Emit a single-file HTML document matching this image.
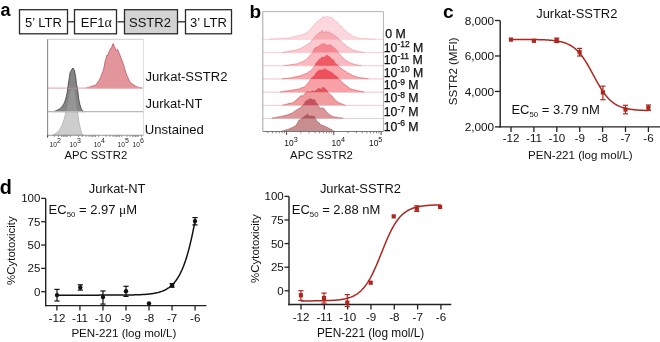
<!DOCTYPE html>
<html><head><meta charset="utf-8"><style>
html,body{margin:0;padding:0;background:#fff;width:660px;height:342px;overflow:hidden}
svg{display:block;will-change:transform}
text{font-family:"Liberation Sans",sans-serif}
</style></head><body>
<svg width="660" height="342" viewBox="0 0 660 342" font-family="Liberation Sans, sans-serif">
<rect width="660" height="342" fill="#fff"/>
<text x="0.4" y="16.2" font-size="18" text-anchor="start" font-weight="bold" fill="#000" >a</text>
<rect x="19.5" y="9.7" width="48.0" height="24.1" fill="#fff" stroke="#2a2a2a" stroke-width="1.3"/>
<text x="43.45" y="26.5" font-size="13" text-anchor="middle" fill="#111" >5’ LTR</text>
<rect x="74.5" y="9.7" width="42.0" height="24.1" fill="#fff" stroke="#2a2a2a" stroke-width="1.3"/>
<text x="96.35" y="26.5" font-size="13" text-anchor="middle" fill="#111" >EF1<tspan font-family="Liberation Serif" font-size="14">α</tspan></text>
<rect x="124.5" y="9.7" width="53.0" height="24.1" fill="#d3d3d3" stroke="#2a2a2a" stroke-width="1.3"/>
<text x="149.95" y="26.5" font-size="13" text-anchor="middle" fill="#111" >SSTR2</text>
<rect x="185.5" y="9.7" width="46.0" height="24.1" fill="#fff" stroke="#2a2a2a" stroke-width="1.3"/>
<text x="208.45" y="26.5" font-size="13" text-anchor="middle" fill="#111" >3’ LTR</text>
<line x1="68" y1="21.8" x2="74.5" y2="21.8" stroke="#2a2a2a" stroke-width="1.3" />
<line x1="117.5" y1="21.8" x2="124.5" y2="21.8" stroke="#2a2a2a" stroke-width="1.3" />
<line x1="178" y1="21.8" x2="185.5" y2="21.8" stroke="#2a2a2a" stroke-width="1.3" />
<path d="M86.00,88.00 L86.00,88.00 L86.70,87.82 L87.40,87.60 L88.10,87.56 L88.80,87.15 L89.50,86.98 L90.20,86.86 L90.90,86.54 L91.60,86.35 L92.30,86.15 L93.00,85.96 L93.70,85.70 L94.40,85.61 L95.10,85.34 L95.80,84.63 L96.50,83.70 L97.20,82.92 L97.90,82.12 L98.60,81.33 L99.30,80.13 L100.00,78.70 L100.70,77.34 L101.40,75.38 L102.10,73.30 L102.80,72.01 L103.50,69.51 L104.20,66.69 L104.90,62.58 L105.60,59.38 L106.30,57.56 L107.00,55.01 L107.70,55.25 L108.40,53.75 L109.10,51.42 L109.80,50.45 L110.50,48.81 L111.20,47.82 L111.90,46.88 L112.60,44.24 L113.30,43.61 L114.00,46.04 L114.70,47.40 L115.40,48.77 L116.10,50.64 L116.80,49.88 L117.50,49.45 L118.20,50.93 L118.90,52.64 L119.60,54.18 L120.30,56.13 L121.00,58.06 L121.70,60.12 L122.40,61.24 L123.10,63.81 L123.80,65.51 L124.50,68.33 L125.20,70.25 L125.90,72.90 L126.60,74.84 L127.30,76.37 L128.00,77.88 L128.70,79.23 L129.40,80.73 L130.10,82.11 L130.80,82.76 L131.50,83.35 L132.20,83.82 L132.90,84.30 L133.60,85.00 L134.30,85.27 L135.00,85.63 L135.70,86.21 L136.40,86.64 L137.10,86.74 L137.80,87.03 L138.50,87.21 L139.20,87.56 L139.90,87.71 L140.60,87.89 L141.30,88.00 L142.00,88.00 L142.00,88.00 Z" fill="rgb(226,150,155)" stroke="rgb(195,75,85)" stroke-width="0.8"/>
<line x1="47.6" y1="88.2" x2="143.4" y2="88.2" stroke="rgb(238,185,190)" stroke-width="1.2" />
<path d="M52.00,111.60 L52.00,111.60 L52.70,111.60 L53.40,111.52 L54.10,111.38 L54.80,111.15 L55.50,110.90 L56.20,110.63 L56.90,110.23 L57.60,109.92 L58.30,109.62 L59.00,109.20 L59.70,108.71 L60.40,108.13 L61.10,107.56 L61.80,106.91 L62.50,106.05 L63.20,104.73 L63.90,103.51 L64.60,102.17 L65.30,100.17 L66.00,97.76 L66.70,94.83 L67.40,90.98 L68.10,85.55 L68.80,80.71 L69.50,76.40 L70.20,72.15 L70.90,71.26 L71.60,69.94 L72.30,68.52 L73.00,68.03 L73.70,69.30 L74.40,70.00 L75.10,73.80 L75.80,78.06 L76.50,84.04 L77.20,87.21 L77.90,91.92 L78.60,98.08 L79.30,101.87 L80.00,104.87 L80.70,107.22 L81.40,109.12 L82.10,110.01 L82.80,110.85 L83.50,111.38 L84.20,111.60 L84.90,111.60 L85.00,111.60 Z" fill="rgb(133,133,133)" stroke="rgb(60,60,60)" stroke-width="0.8"/>
<line x1="47.6" y1="88.2" x2="143.4" y2="88.2" stroke="rgb(238,185,190)" stroke-width="1.1" stroke-opacity="0.45"/>
<path d="M52.00,135.20 L52.00,135.20 L52.70,135.20 L53.40,134.48 L54.10,134.45 L54.80,133.90 L55.50,133.36 L56.20,132.90 L56.90,132.28 L57.60,131.77 L58.30,131.04 L59.00,130.64 L59.70,129.52 L60.40,128.11 L61.10,126.74 L61.80,125.37 L62.50,123.93 L63.20,121.58 L63.90,119.37 L64.60,116.88 L65.30,114.17 L66.00,111.02 L66.70,106.96 L67.40,103.30 L68.10,99.41 L68.80,95.22 L69.50,92.60 L70.20,90.45 L70.90,89.33 L71.60,88.67 L72.30,87.83 L73.00,88.76 L73.70,89.29 L74.40,89.65 L75.10,93.04 L75.80,96.91 L76.50,102.27 L77.20,109.05 L77.90,114.09 L78.60,119.27 L79.30,123.27 L80.00,126.34 L80.70,129.55 L81.40,132.06 L82.10,134.24 L82.80,134.50 L83.50,135.20 L84.00,135.20 Z" fill="rgb(162,162,162)" fill-opacity="0.54" stroke="rgb(120,120,120)" stroke-opacity="0.5" stroke-width="0.7"/>
<line x1="47.6" y1="111.6" x2="143.4" y2="111.6" stroke="rgb(185,185,185)" stroke-width="1.2" />
<line x1="47.6" y1="39.3" x2="143.4" y2="39.3" stroke="#cfcfcf" stroke-width="1" />
<line x1="143.4" y1="39.3" x2="143.4" y2="135.3" stroke="#dcdcdc" stroke-width="1" />
<line x1="47.6" y1="39.3" x2="47.6" y2="135.3" stroke="#8a8a8a" stroke-width="1.1" />
<line x1="47.6" y1="135.3" x2="143.4" y2="135.3" stroke="#9a9a9a" stroke-width="1.1" />
<line x1="47.6" y1="135.3" x2="47.6" y2="137.5" stroke="#333" stroke-width="1.1" />
<line x1="54.3" y1="135.3" x2="54.3" y2="137.0" stroke="#666" stroke-width="0.7" />
<line x1="58.4" y1="135.3" x2="58.4" y2="137.0" stroke="#666" stroke-width="0.7" />
<line x1="61.6" y1="135.3" x2="61.6" y2="137.0" stroke="#666" stroke-width="0.7" />
<line x1="63.4" y1="135.3" x2="63.4" y2="137.0" stroke="#666" stroke-width="0.7" />
<line x1="64.9" y1="135.3" x2="64.9" y2="137.0" stroke="#666" stroke-width="0.7" />
<line x1="66.1" y1="135.3" x2="66.1" y2="137.0" stroke="#666" stroke-width="0.7" />
<line x1="67.3" y1="135.3" x2="67.3" y2="137.0" stroke="#666" stroke-width="0.7" />
<line x1="70.4" y1="135.3" x2="70.4" y2="137.0" stroke="#666" stroke-width="0.7" />
<line x1="78.5" y1="135.3" x2="78.5" y2="137.0" stroke="#666" stroke-width="0.7" />
<line x1="82.2" y1="135.3" x2="82.2" y2="137.0" stroke="#666" stroke-width="0.7" />
<line x1="86" y1="135.3" x2="86" y2="137.0" stroke="#666" stroke-width="0.7" />
<line x1="89" y1="135.3" x2="89" y2="137.0" stroke="#666" stroke-width="0.7" />
<line x1="91" y1="135.3" x2="91" y2="137.0" stroke="#666" stroke-width="0.7" />
<line x1="92.5" y1="135.3" x2="92.5" y2="137.0" stroke="#666" stroke-width="0.7" />
<line x1="94" y1="135.3" x2="94" y2="137.0" stroke="#666" stroke-width="0.7" />
<line x1="95.5" y1="135.3" x2="95.5" y2="137.0" stroke="#666" stroke-width="0.7" />
<line x1="98.5" y1="135.3" x2="98.5" y2="137.0" stroke="#666" stroke-width="0.7" />
<line x1="106" y1="135.3" x2="106" y2="137.0" stroke="#666" stroke-width="0.7" />
<line x1="110" y1="135.3" x2="110" y2="137.0" stroke="#666" stroke-width="0.7" />
<line x1="113" y1="135.3" x2="113" y2="137.0" stroke="#666" stroke-width="0.7" />
<line x1="115" y1="135.3" x2="115" y2="137.0" stroke="#666" stroke-width="0.7" />
<line x1="116.5" y1="135.3" x2="116.5" y2="137.0" stroke="#666" stroke-width="0.7" />
<line x1="118" y1="135.3" x2="118" y2="137.0" stroke="#666" stroke-width="0.7" />
<line x1="119.5" y1="135.3" x2="119.5" y2="137.0" stroke="#666" stroke-width="0.7" />
<line x1="121.8" y1="135.3" x2="121.8" y2="137.0" stroke="#666" stroke-width="0.7" />
<line x1="127" y1="135.3" x2="127" y2="137.0" stroke="#666" stroke-width="0.7" />
<line x1="130" y1="135.3" x2="130" y2="137.0" stroke="#666" stroke-width="0.7" />
<line x1="132.5" y1="135.3" x2="132.5" y2="137.0" stroke="#666" stroke-width="0.7" />
<line x1="134" y1="135.3" x2="134" y2="137.0" stroke="#666" stroke-width="0.7" />
<line x1="135.5" y1="135.3" x2="135.5" y2="137.0" stroke="#666" stroke-width="0.7" />
<line x1="137" y1="135.3" x2="137" y2="137.0" stroke="#666" stroke-width="0.7" />
<line x1="138.2" y1="135.3" x2="138.2" y2="137.0" stroke="#666" stroke-width="0.7" />
<line x1="141.5" y1="135.3" x2="141.5" y2="137.0" stroke="#666" stroke-width="0.7" />
<text x="49.6" y="147.2" font-size="6.6" fill="#222">10<tspan dy="-4.0" font-size="7.0">2</tspan></text>
<text x="69.6" y="147.2" font-size="6.6" fill="#222">10<tspan dy="-4.0" font-size="7.0">3</tspan></text>
<text x="93.7" y="147.2" font-size="6.6" fill="#222">10<tspan dy="-4.0" font-size="7.0">4</tspan></text>
<text x="117.6" y="147.2" font-size="6.6" fill="#222">10<tspan dy="-4.0" font-size="7.0">5</tspan></text>
<text x="132.6" y="147.2" font-size="6.6" fill="#222">10<tspan dy="-4.0" font-size="7.0">6</tspan></text>
<text x="95.8" y="159.2" font-size="11.3" text-anchor="middle" fill="#111" >APC SSTR2</text>
<text x="145.5" y="81.2" font-size="13.05" text-anchor="start" fill="#111" >Jurkat-SSTR2</text>
<text x="145.5" y="108.2" font-size="12.95" text-anchor="start" fill="#111" >Jurkat-NT</text>
<text x="144.8" y="134.2" font-size="13.1" text-anchor="start" fill="#111" >Unstained</text>
<text x="249.5" y="18.1" font-size="19.0" text-anchor="start" font-weight="bold" fill="#000" >b</text>
<g>
<line x1="262.8" y1="39.4" x2="383.4" y2="39.4" stroke="rgb(249,212,217)" stroke-width="0.9"/>
<line x1="262.8" y1="52.589999999999996" x2="383.4" y2="52.589999999999996" stroke="rgb(247,200,206)" stroke-width="0.9"/>
<line x1="262.8" y1="65.78" x2="383.4" y2="65.78" stroke="rgb(246,192,198)" stroke-width="0.9"/>
<line x1="262.8" y1="78.97" x2="383.4" y2="78.97" stroke="rgb(245,188,194)" stroke-width="0.9"/>
<line x1="262.8" y1="92.16" x2="383.4" y2="92.16" stroke="rgb(243,190,194)" stroke-width="0.9"/>
<line x1="262.8" y1="105.35" x2="383.4" y2="105.35" stroke="rgb(238,196,196)" stroke-width="0.9"/>
<line x1="262.8" y1="118.53999999999999" x2="383.4" y2="118.53999999999999" stroke="rgb(226,200,200)" stroke-width="0.9"/>
<defs><clipPath id="hc0"><path d="M263.30,39.40 L263.30,39.40 L264.00,39.40 L264.70,39.40 L265.40,39.40 L266.10,39.39 L266.80,39.34 L267.50,39.29 L268.20,39.25 L268.90,39.20 L269.60,39.15 L270.30,39.16 L271.00,39.12 L271.70,39.03 L272.40,38.96 L273.10,38.99 L273.80,38.96 L274.50,38.79 L275.20,38.92 L275.90,38.74 L276.60,38.64 L277.30,38.71 L278.00,38.68 L278.70,38.60 L279.40,38.44 L280.10,38.46 L280.80,38.56 L281.50,38.39 L282.20,38.23 L282.90,38.18 L283.60,38.17 L284.30,38.19 L285.00,38.28 L285.70,38.07 L286.40,38.05 L287.10,37.98 L287.80,37.82 L288.50,37.88 L289.20,37.83 L289.90,37.76 L290.60,37.67 L291.30,37.53 L292.00,37.35 L292.70,37.05 L293.40,36.90 L294.10,36.80 L294.80,36.49 L295.50,36.39 L296.20,36.34 L296.90,36.00 L297.60,35.89 L298.30,35.82 L299.00,35.44 L299.70,35.30 L300.40,35.10 L301.10,34.77 L301.80,34.88 L302.50,34.56 L303.20,34.25 L303.90,33.94 L304.60,33.85 L305.30,33.51 L306.00,33.05 L306.70,32.43 L307.40,31.81 L308.10,31.73 L308.80,31.40 L309.50,30.57 L310.20,29.86 L310.90,29.08 L311.60,27.75 L312.30,26.76 L313.00,26.26 L313.70,25.27 L314.40,24.02 L315.10,23.61 L315.80,23.42 L316.50,22.30 L317.20,22.07 L317.90,20.95 L318.60,20.74 L319.30,20.01 L320.00,19.13 L320.70,19.03 L321.40,18.87 L322.10,18.65 L322.80,16.81 L323.50,16.71 L324.20,17.79 L324.90,17.46 L325.60,16.49 L326.30,17.04 L327.00,16.63 L327.70,16.27 L328.40,16.84 L329.10,17.18 L329.80,17.57 L330.50,17.56 L331.20,17.51 L331.90,17.24 L332.60,18.19 L333.30,19.41 L334.00,19.47 L334.70,20.43 L335.40,21.73 L336.10,21.71 L336.80,21.89 L337.50,23.24 L338.20,23.34 L338.90,24.51 L339.60,25.09 L340.30,26.19 L341.00,25.85 L341.70,27.07 L342.40,27.62 L343.10,28.72 L343.80,29.66 L344.50,29.72 L345.20,30.85 L345.90,31.08 L346.60,32.09 L347.30,32.23 L348.00,33.05 L348.70,33.64 L349.40,33.72 L350.10,34.27 L350.80,34.70 L351.50,35.03 L352.20,35.65 L352.90,36.12 L353.60,36.42 L354.30,36.69 L355.00,36.92 L355.70,37.10 L356.40,37.30 L357.10,37.48 L357.80,37.76 L358.50,37.90 L359.20,38.05 L359.90,38.33 L360.60,38.32 L361.30,38.47 L362.00,38.41 L362.70,38.44 L363.40,38.57 L364.10,38.69 L364.80,38.62 L365.50,38.65 L366.20,38.57 L366.90,38.76 L367.60,38.64 L368.30,39.01 L369.00,38.88 L369.70,38.94 L370.40,38.97 L371.10,39.02 L371.80,39.02 L372.50,38.92 L373.20,39.10 L373.90,39.11 L374.60,39.14 L375.30,39.17 L376.00,39.21 L376.70,39.24 L377.40,39.27 L378.10,39.31 L378.80,39.34 L379.50,39.38 L380.20,39.40 L380.90,39.40 L381.60,39.40 L382.30,39.40 L382.90,39.40 Z"/></clipPath><clipPath id="hc1"><path d="M263.30,52.59 L263.30,52.59 L264.00,52.59 L264.70,52.59 L265.40,52.59 L266.10,52.59 L266.80,52.59 L267.50,52.59 L268.20,52.59 L268.90,52.59 L269.60,52.59 L270.30,52.59 L271.00,52.59 L271.70,52.59 L272.40,52.59 L273.10,52.59 L273.80,52.59 L274.50,52.59 L275.20,52.59 L275.90,52.59 L276.60,52.59 L277.30,52.59 L278.00,52.59 L278.70,52.59 L279.40,52.59 L280.10,52.59 L280.80,52.52 L281.50,52.45 L282.20,52.38 L282.90,52.31 L283.60,52.24 L284.30,52.10 L285.00,52.12 L285.70,52.02 L286.40,51.79 L287.10,51.63 L287.80,51.58 L288.50,51.37 L289.20,51.19 L289.90,51.16 L290.60,51.07 L291.30,50.84 L292.00,50.71 L292.70,50.50 L293.40,50.56 L294.10,50.38 L294.80,50.25 L295.50,50.19 L296.20,49.90 L296.90,49.73 L297.60,49.70 L298.30,49.39 L299.00,49.08 L299.70,48.75 L300.40,48.42 L301.10,48.01 L301.80,47.94 L302.50,47.35 L303.20,47.00 L303.90,47.00 L304.60,46.34 L305.30,46.04 L306.00,45.38 L306.70,45.13 L307.40,44.57 L308.10,44.02 L308.80,43.82 L309.50,43.00 L310.20,42.59 L310.90,41.62 L311.60,41.10 L312.30,39.79 L313.00,39.12 L313.70,38.57 L314.40,37.46 L315.10,36.40 L315.80,35.45 L316.50,36.18 L317.20,34.40 L317.90,33.88 L318.60,33.53 L319.30,33.49 L320.00,31.84 L320.70,32.65 L321.40,31.18 L322.10,30.27 L322.80,31.95 L323.50,32.09 L324.20,33.46 L324.90,32.45 L325.60,31.57 L326.30,31.07 L327.00,33.00 L327.70,32.54 L328.40,32.05 L329.10,31.78 L329.80,32.54 L330.50,33.43 L331.20,33.27 L331.90,33.79 L332.60,34.24 L333.30,34.84 L334.00,34.84 L334.70,35.40 L335.40,36.08 L336.10,36.65 L336.80,37.61 L337.50,38.00 L338.20,38.10 L338.90,39.32 L339.60,40.43 L340.30,40.28 L341.00,41.22 L341.70,41.39 L342.40,42.54 L343.10,43.26 L343.80,44.07 L344.50,44.06 L345.20,44.43 L345.90,45.67 L346.60,46.22 L347.30,46.48 L348.00,47.13 L348.70,47.48 L349.40,47.92 L350.10,48.29 L350.80,48.64 L351.50,49.18 L352.20,49.54 L352.90,50.09 L353.60,50.34 L354.30,50.69 L355.00,50.78 L355.70,50.75 L356.40,51.01 L357.10,51.07 L357.80,51.22 L358.50,51.31 L359.20,51.50 L359.90,51.63 L360.60,51.87 L361.30,52.07 L362.00,52.20 L362.70,52.26 L363.40,52.30 L364.10,52.38 L364.80,52.46 L365.50,52.54 L366.20,52.59 L366.90,52.59 L367.60,52.59 L368.30,52.59 L369.00,52.59 L369.70,52.59 L370.40,52.59 L371.10,52.59 L371.80,52.59 L372.50,52.59 L373.20,52.59 L373.90,52.59 L374.60,52.59 L375.30,52.59 L376.00,52.59 L376.70,52.59 L377.40,52.59 L378.10,52.59 L378.80,52.59 L379.50,52.59 L380.20,52.59 L380.90,52.59 L381.60,52.59 L382.30,52.59 L382.90,52.59 Z"/></clipPath><clipPath id="hc2"><path d="M263.30,65.78 L263.30,65.78 L264.00,65.78 L264.70,65.78 L265.40,65.78 L266.10,65.78 L266.80,65.78 L267.50,65.78 L268.20,65.78 L268.90,65.78 L269.60,65.78 L270.30,65.78 L271.00,65.78 L271.70,65.78 L272.40,65.78 L273.10,65.78 L273.80,65.78 L274.50,65.78 L275.20,65.78 L275.90,65.78 L276.60,65.78 L277.30,65.78 L278.00,65.78 L278.70,65.77 L279.40,65.74 L280.10,65.71 L280.80,65.68 L281.50,65.65 L282.20,65.63 L282.90,65.60 L283.60,65.57 L284.30,65.54 L285.00,65.51 L285.70,65.47 L286.40,65.44 L287.10,65.24 L287.80,65.16 L288.50,65.02 L289.20,64.98 L289.90,64.83 L290.60,64.59 L291.30,64.61 L292.00,64.59 L292.70,64.37 L293.40,64.36 L294.10,64.20 L294.80,64.10 L295.50,64.09 L296.20,64.11 L296.90,63.88 L297.60,63.63 L298.30,63.42 L299.00,63.06 L299.70,62.73 L300.40,62.56 L301.10,62.12 L301.80,61.79 L302.50,61.54 L303.20,61.24 L303.90,60.95 L304.60,60.51 L305.30,60.19 L306.00,59.53 L306.70,58.74 L307.40,58.33 L308.10,57.79 L308.80,56.98 L309.50,55.98 L310.20,55.03 L310.90,54.68 L311.60,53.90 L312.30,52.46 L313.00,51.43 L313.70,50.40 L314.40,49.11 L315.10,47.85 L315.80,47.54 L316.50,47.00 L317.20,47.42 L317.90,47.10 L318.60,46.18 L319.30,45.72 L320.00,45.45 L320.70,44.90 L321.40,44.18 L322.10,43.71 L322.80,44.65 L323.50,43.69 L324.20,43.30 L324.90,44.02 L325.60,45.80 L326.30,44.64 L327.00,45.65 L327.70,45.69 L328.40,45.25 L329.10,44.82 L329.80,45.74 L330.50,44.32 L331.20,45.22 L331.90,46.17 L332.60,46.46 L333.30,47.88 L334.00,47.78 L334.70,48.09 L335.40,49.14 L336.10,49.65 L336.80,50.31 L337.50,51.31 L338.20,52.07 L338.90,53.48 L339.60,54.62 L340.30,55.16 L341.00,55.50 L341.70,56.78 L342.40,57.29 L343.10,58.40 L343.80,58.57 L344.50,59.28 L345.20,59.63 L345.90,60.27 L346.60,60.82 L347.30,61.03 L348.00,61.49 L348.70,62.08 L349.40,62.56 L350.10,62.84 L350.80,63.17 L351.50,63.15 L352.20,63.63 L352.90,63.83 L353.60,64.01 L354.30,64.35 L355.00,64.50 L355.70,64.50 L356.40,64.86 L357.10,65.11 L357.80,65.37 L358.50,65.30 L359.20,65.35 L359.90,65.44 L360.60,65.52 L361.30,65.58 L362.00,65.64 L362.70,65.69 L363.40,65.75 L364.10,65.78 L364.80,65.78 L365.50,65.78 L366.20,65.78 L366.90,65.78 L367.60,65.78 L368.30,65.78 L369.00,65.78 L369.70,65.78 L370.40,65.78 L371.10,65.78 L371.80,65.78 L372.50,65.78 L373.20,65.78 L373.90,65.78 L374.60,65.78 L375.30,65.78 L376.00,65.78 L376.70,65.78 L377.40,65.78 L378.10,65.78 L378.80,65.78 L379.50,65.78 L380.20,65.78 L380.90,65.78 L381.60,65.78 L382.30,65.78 L382.90,65.78 Z"/></clipPath><clipPath id="hc3"><path d="M263.30,78.97 L263.30,78.97 L264.00,78.97 L264.70,78.97 L265.40,78.97 L266.10,78.97 L266.80,78.97 L267.50,78.97 L268.20,78.97 L268.90,78.97 L269.60,78.97 L270.30,78.97 L271.00,78.97 L271.70,78.97 L272.40,78.97 L273.10,78.97 L273.80,78.97 L274.50,78.97 L275.20,78.97 L275.90,78.97 L276.60,78.97 L277.30,78.97 L278.00,78.97 L278.70,78.97 L279.40,78.97 L280.10,78.89 L280.80,78.84 L281.50,78.79 L282.20,78.74 L282.90,78.69 L283.60,78.61 L284.30,78.50 L285.00,78.52 L285.70,78.51 L286.40,78.50 L287.10,78.41 L287.80,78.24 L288.50,78.17 L289.20,78.12 L289.90,78.07 L290.60,77.77 L291.30,77.80 L292.00,77.59 L292.70,77.47 L293.40,77.21 L294.10,77.11 L294.80,76.95 L295.50,76.83 L296.20,76.77 L296.90,76.53 L297.60,76.32 L298.30,76.30 L299.00,76.11 L299.70,76.03 L300.40,75.77 L301.10,75.52 L301.80,75.21 L302.50,74.97 L303.20,74.55 L303.90,74.47 L304.60,74.18 L305.30,73.93 L306.00,73.50 L306.70,73.37 L307.40,73.10 L308.10,72.53 L308.80,71.87 L309.50,71.38 L310.20,71.42 L310.90,70.53 L311.60,69.99 L312.30,69.46 L313.00,68.40 L313.70,66.84 L314.40,66.50 L315.10,65.44 L315.80,63.55 L316.50,62.58 L317.20,61.65 L317.90,61.08 L318.60,59.92 L319.30,59.18 L320.00,59.77 L320.70,59.11 L321.40,57.23 L322.10,57.05 L322.80,57.49 L323.50,57.51 L324.20,56.83 L324.90,57.12 L325.60,56.41 L326.30,55.07 L327.00,55.83 L327.70,55.62 L328.40,56.72 L329.10,56.76 L329.80,56.58 L330.50,58.33 L331.20,58.47 L331.90,59.07 L332.60,59.57 L333.30,59.71 L334.00,60.90 L334.70,62.65 L335.40,63.01 L336.10,64.09 L336.80,64.91 L337.50,64.64 L338.20,66.33 L338.90,66.63 L339.60,67.60 L340.30,67.69 L341.00,68.31 L341.70,68.85 L342.40,69.38 L343.10,69.59 L343.80,70.52 L344.50,70.93 L345.20,71.43 L345.90,71.43 L346.60,72.14 L347.30,72.69 L348.00,73.03 L348.70,73.07 L349.40,73.85 L350.10,74.18 L350.80,74.55 L351.50,74.87 L352.20,75.21 L352.90,75.45 L353.60,75.73 L354.30,76.16 L355.00,76.04 L355.70,76.46 L356.40,76.80 L357.10,77.10 L357.80,77.43 L358.50,77.40 L359.20,77.59 L359.90,77.62 L360.60,77.87 L361.30,77.82 L362.00,77.78 L362.70,78.06 L363.40,78.06 L364.10,78.21 L364.80,78.22 L365.50,78.31 L366.20,78.49 L366.90,78.63 L367.60,78.64 L368.30,78.73 L369.00,78.80 L369.70,78.87 L370.40,78.97 L371.10,78.97 L371.80,78.97 L372.50,78.97 L373.20,78.97 L373.90,78.97 L374.60,78.97 L375.30,78.97 L376.00,78.97 L376.70,78.97 L377.40,78.97 L378.10,78.97 L378.80,78.97 L379.50,78.97 L380.20,78.97 L380.90,78.97 L381.60,78.97 L382.30,78.97 L382.90,78.97 Z"/></clipPath><clipPath id="hc4"><path d="M263.30,92.16 L263.30,92.16 L264.00,92.16 L264.70,92.16 L265.40,92.16 L266.10,92.16 L266.80,92.16 L267.50,92.16 L268.20,92.16 L268.90,92.16 L269.60,92.16 L270.30,92.16 L271.00,92.16 L271.70,92.16 L272.40,92.16 L273.10,92.16 L273.80,92.16 L274.50,92.16 L275.20,92.16 L275.90,92.16 L276.60,92.16 L277.30,92.16 L278.00,92.16 L278.70,92.16 L279.40,92.13 L280.10,92.00 L280.80,91.87 L281.50,91.69 L282.20,91.76 L282.90,91.47 L283.60,91.47 L284.30,91.24 L285.00,91.20 L285.70,91.18 L286.40,91.00 L287.10,90.97 L287.80,90.70 L288.50,90.68 L289.20,90.50 L289.90,90.56 L290.60,90.23 L291.30,90.28 L292.00,90.04 L292.70,89.97 L293.40,90.03 L294.10,89.81 L294.80,89.77 L295.50,89.59 L296.20,89.40 L296.90,89.35 L297.60,89.22 L298.30,89.30 L299.00,88.92 L299.70,88.65 L300.40,88.32 L301.10,88.21 L301.80,87.84 L302.50,87.59 L303.20,87.55 L303.90,87.24 L304.60,86.79 L305.30,86.51 L306.00,85.70 L306.70,84.52 L307.40,83.79 L308.10,83.06 L308.80,82.15 L309.50,81.17 L310.20,79.95 L310.90,79.22 L311.60,78.23 L312.30,77.18 L313.00,77.09 L313.70,76.23 L314.40,75.44 L315.10,75.02 L315.80,73.50 L316.50,72.34 L317.20,72.28 L317.90,70.91 L318.60,71.31 L319.30,70.12 L320.00,69.78 L320.70,70.31 L321.40,70.87 L322.10,69.68 L322.80,69.95 L323.50,69.89 L324.20,69.40 L324.90,68.61 L325.60,69.50 L326.30,69.66 L327.00,70.77 L327.70,70.53 L328.40,71.35 L329.10,70.80 L329.80,71.75 L330.50,71.93 L331.20,72.35 L331.90,72.99 L332.60,73.07 L333.30,73.88 L334.00,74.82 L334.70,75.21 L335.40,75.65 L336.10,75.95 L336.80,77.01 L337.50,77.14 L338.20,78.50 L338.90,79.09 L339.60,80.17 L340.30,80.22 L341.00,81.43 L341.70,82.13 L342.40,82.39 L343.10,83.41 L343.80,84.02 L344.50,84.21 L345.20,84.94 L345.90,85.28 L346.60,86.01 L347.30,86.37 L348.00,86.86 L348.70,87.50 L349.40,87.86 L350.10,88.59 L350.80,89.04 L351.50,89.18 L352.20,89.27 L352.90,89.54 L353.60,89.72 L354.30,89.83 L355.00,89.91 L355.70,90.22 L356.40,90.45 L357.10,90.52 L357.80,90.63 L358.50,90.89 L359.20,91.00 L359.90,91.33 L360.60,91.34 L361.30,91.50 L362.00,91.59 L362.70,91.71 L363.40,91.77 L364.10,91.93 L364.80,92.03 L365.50,92.13 L366.20,92.16 L366.90,92.16 L367.60,92.16 L368.30,92.16 L369.00,92.16 L369.70,92.16 L370.40,92.16 L371.10,92.16 L371.80,92.16 L372.50,92.16 L373.20,92.16 L373.90,92.16 L374.60,92.16 L375.30,92.16 L376.00,92.16 L376.70,92.16 L377.40,92.16 L378.10,92.16 L378.80,92.16 L379.50,92.16 L380.20,92.16 L380.90,92.16 L381.60,92.16 L382.30,92.16 L382.90,92.16 Z"/></clipPath><clipPath id="hc5"><path d="M263.30,105.35 L263.30,105.35 L264.00,105.35 L264.70,105.35 L265.40,105.35 L266.10,105.35 L266.80,105.35 L267.50,105.35 L268.20,105.35 L268.90,105.35 L269.60,105.35 L270.30,105.35 L271.00,105.35 L271.70,105.35 L272.40,105.35 L273.10,105.35 L273.80,105.35 L274.50,105.35 L275.20,105.35 L275.90,105.35 L276.60,105.35 L277.30,105.35 L278.00,105.35 L278.70,105.35 L279.40,105.35 L280.10,105.35 L280.80,105.35 L281.50,105.23 L282.20,105.14 L282.90,105.05 L283.60,105.11 L284.30,104.69 L285.00,104.63 L285.70,104.41 L286.40,104.19 L287.10,104.02 L287.80,103.98 L288.50,103.57 L289.20,103.46 L289.90,103.31 L290.60,103.23 L291.30,103.13 L292.00,102.96 L292.70,102.67 L293.40,102.40 L294.10,101.91 L294.80,101.00 L295.50,100.61 L296.20,99.90 L296.90,99.31 L297.60,99.11 L298.30,98.08 L299.00,97.49 L299.70,97.24 L300.40,95.99 L301.10,95.56 L301.80,95.80 L302.50,96.00 L303.20,95.91 L303.90,94.70 L304.60,93.98 L305.30,93.09 L306.00,92.62 L306.70,91.74 L307.40,91.44 L308.10,92.25 L308.80,91.73 L309.50,91.66 L310.20,92.20 L310.90,92.37 L311.60,91.39 L312.30,90.56 L313.00,91.47 L313.70,91.35 L314.40,92.13 L315.10,90.73 L315.80,90.29 L316.50,90.17 L317.20,90.11 L317.90,88.57 L318.60,88.75 L319.30,89.03 L320.00,88.33 L320.70,89.56 L321.40,89.64 L322.10,88.15 L322.80,87.27 L323.50,87.27 L324.20,88.30 L324.90,88.20 L325.60,90.02 L326.30,89.64 L327.00,90.66 L327.70,92.65 L328.40,93.22 L329.10,94.36 L329.80,94.76 L330.50,94.73 L331.20,95.80 L331.90,95.99 L332.60,96.82 L333.30,97.80 L334.00,98.52 L334.70,99.26 L335.40,100.27 L336.10,100.69 L336.80,101.17 L337.50,101.94 L338.20,102.49 L338.90,102.96 L339.60,103.03 L340.30,103.29 L341.00,103.65 L341.70,103.82 L342.40,104.18 L343.10,104.54 L343.80,104.81 L344.50,105.04 L345.20,105.12 L345.90,105.28 L346.60,105.35 L347.30,105.35 L348.00,105.35 L348.70,105.35 L349.40,105.35 L350.10,105.35 L350.80,105.35 L351.50,105.35 L352.20,105.35 L352.90,105.35 L353.60,105.35 L354.30,105.35 L355.00,105.35 L355.70,105.35 L356.40,105.35 L357.10,105.35 L357.80,105.35 L358.50,105.35 L359.20,105.35 L359.90,105.35 L360.60,105.35 L361.30,105.35 L362.00,105.35 L362.70,105.35 L363.40,105.35 L364.10,105.35 L364.80,105.35 L365.50,105.35 L366.20,105.35 L366.90,105.35 L367.60,105.35 L368.30,105.35 L369.00,105.35 L369.70,105.35 L370.40,105.35 L371.10,105.35 L371.80,105.35 L372.50,105.35 L373.20,105.35 L373.90,105.35 L374.60,105.35 L375.30,105.35 L376.00,105.35 L376.70,105.35 L377.40,105.35 L378.10,105.35 L378.80,105.35 L379.50,105.35 L380.20,105.35 L380.90,105.35 L381.60,105.35 L382.30,105.35 L382.90,105.35 Z"/></clipPath><clipPath id="hc6"><path d="M263.30,118.54 L263.30,118.54 L264.00,118.54 L264.70,118.54 L265.40,118.54 L266.10,118.54 L266.80,118.54 L267.50,118.54 L268.20,118.54 L268.90,118.54 L269.60,118.54 L270.30,118.54 L271.00,118.54 L271.70,118.54 L272.40,117.88 L273.10,117.87 L273.80,117.77 L274.50,117.65 L275.20,117.55 L275.90,117.55 L276.60,117.17 L277.30,117.23 L278.00,116.95 L278.70,116.83 L279.40,116.67 L280.10,116.52 L280.80,116.42 L281.50,116.18 L282.20,116.22 L282.90,115.90 L283.60,115.97 L284.30,115.59 L285.00,115.58 L285.70,115.37 L286.40,115.02 L287.10,115.13 L287.80,114.71 L288.50,114.37 L289.20,114.09 L289.90,113.79 L290.60,113.63 L291.30,113.40 L292.00,113.15 L292.70,112.66 L293.40,112.23 L294.10,111.60 L294.80,111.28 L295.50,110.71 L296.20,110.03 L296.90,109.65 L297.60,109.55 L298.30,109.01 L299.00,108.27 L299.70,108.14 L300.40,107.99 L301.10,107.23 L301.80,106.07 L302.50,105.67 L303.20,105.07 L303.90,104.00 L304.60,103.85 L305.30,101.47 L306.00,101.49 L306.70,101.18 L307.40,99.55 L308.10,100.61 L308.80,99.69 L309.50,98.82 L310.20,98.81 L310.90,99.00 L311.60,99.06 L312.30,99.81 L313.00,100.12 L313.70,99.81 L314.40,99.58 L315.10,100.74 L315.80,103.35 L316.50,102.84 L317.20,104.05 L317.90,105.14 L318.60,106.53 L319.30,107.08 L320.00,107.74 L320.70,108.59 L321.40,107.85 L322.10,107.95 L322.80,108.20 L323.50,108.47 L324.20,108.67 L324.90,109.83 L325.60,110.71 L326.30,111.97 L327.00,112.26 L327.70,113.27 L328.40,113.60 L329.10,114.68 L329.80,114.92 L330.50,115.28 L331.20,115.83 L331.90,116.02 L332.60,116.40 L333.30,116.63 L334.00,116.74 L334.70,116.93 L335.40,116.97 L336.10,117.12 L336.80,117.30 L337.50,117.55 L338.20,117.68 L338.90,117.66 L339.60,117.86 L340.30,117.87 L341.00,117.95 L341.70,117.89 L342.40,117.90 L343.10,118.54 L343.80,118.54 L344.50,118.54 L345.20,118.54 L345.90,118.54 L346.60,118.54 L347.30,118.54 L348.00,118.54 L348.70,118.54 L349.40,118.54 L350.10,118.54 L350.80,118.54 L351.50,118.54 L352.20,118.54 L352.90,118.54 L353.60,118.54 L354.30,118.54 L355.00,118.54 L355.70,118.54 L356.40,118.54 L357.10,118.54 L357.80,118.54 L358.50,118.54 L359.20,118.54 L359.90,118.54 L360.60,118.54 L361.30,118.54 L362.00,118.54 L362.70,118.54 L363.40,118.54 L364.10,118.54 L364.80,118.54 L365.50,118.54 L366.20,118.54 L366.90,118.54 L367.60,118.54 L368.30,118.54 L369.00,118.54 L369.70,118.54 L370.40,118.54 L371.10,118.54 L371.80,118.54 L372.50,118.54 L373.20,118.54 L373.90,118.54 L374.60,118.54 L375.30,118.54 L376.00,118.54 L376.70,118.54 L377.40,118.54 L378.10,118.54 L378.80,118.54 L379.50,118.54 L380.20,118.54 L380.90,118.54 L381.60,118.54 L382.30,118.54 L382.90,118.54 Z"/></clipPath></defs>
<path d="M263.30,39.40 L263.30,39.40 L264.00,39.40 L264.70,39.40 L265.40,39.40 L266.10,39.39 L266.80,39.34 L267.50,39.29 L268.20,39.25 L268.90,39.20 L269.60,39.15 L270.30,39.16 L271.00,39.12 L271.70,39.03 L272.40,38.96 L273.10,38.99 L273.80,38.96 L274.50,38.79 L275.20,38.92 L275.90,38.74 L276.60,38.64 L277.30,38.71 L278.00,38.68 L278.70,38.60 L279.40,38.44 L280.10,38.46 L280.80,38.56 L281.50,38.39 L282.20,38.23 L282.90,38.18 L283.60,38.17 L284.30,38.19 L285.00,38.28 L285.70,38.07 L286.40,38.05 L287.10,37.98 L287.80,37.82 L288.50,37.88 L289.20,37.83 L289.90,37.76 L290.60,37.67 L291.30,37.53 L292.00,37.35 L292.70,37.05 L293.40,36.90 L294.10,36.80 L294.80,36.49 L295.50,36.39 L296.20,36.34 L296.90,36.00 L297.60,35.89 L298.30,35.82 L299.00,35.44 L299.70,35.30 L300.40,35.10 L301.10,34.77 L301.80,34.88 L302.50,34.56 L303.20,34.25 L303.90,33.94 L304.60,33.85 L305.30,33.51 L306.00,33.05 L306.70,32.43 L307.40,31.81 L308.10,31.73 L308.80,31.40 L309.50,30.57 L310.20,29.86 L310.90,29.08 L311.60,27.75 L312.30,26.76 L313.00,26.26 L313.70,25.27 L314.40,24.02 L315.10,23.61 L315.80,23.42 L316.50,22.30 L317.20,22.07 L317.90,20.95 L318.60,20.74 L319.30,20.01 L320.00,19.13 L320.70,19.03 L321.40,18.87 L322.10,18.65 L322.80,16.81 L323.50,16.71 L324.20,17.79 L324.90,17.46 L325.60,16.49 L326.30,17.04 L327.00,16.63 L327.70,16.27 L328.40,16.84 L329.10,17.18 L329.80,17.57 L330.50,17.56 L331.20,17.51 L331.90,17.24 L332.60,18.19 L333.30,19.41 L334.00,19.47 L334.70,20.43 L335.40,21.73 L336.10,21.71 L336.80,21.89 L337.50,23.24 L338.20,23.34 L338.90,24.51 L339.60,25.09 L340.30,26.19 L341.00,25.85 L341.70,27.07 L342.40,27.62 L343.10,28.72 L343.80,29.66 L344.50,29.72 L345.20,30.85 L345.90,31.08 L346.60,32.09 L347.30,32.23 L348.00,33.05 L348.70,33.64 L349.40,33.72 L350.10,34.27 L350.80,34.70 L351.50,35.03 L352.20,35.65 L352.90,36.12 L353.60,36.42 L354.30,36.69 L355.00,36.92 L355.70,37.10 L356.40,37.30 L357.10,37.48 L357.80,37.76 L358.50,37.90 L359.20,38.05 L359.90,38.33 L360.60,38.32 L361.30,38.47 L362.00,38.41 L362.70,38.44 L363.40,38.57 L364.10,38.69 L364.80,38.62 L365.50,38.65 L366.20,38.57 L366.90,38.76 L367.60,38.64 L368.30,39.01 L369.00,38.88 L369.70,38.94 L370.40,38.97 L371.10,39.02 L371.80,39.02 L372.50,38.92 L373.20,39.10 L373.90,39.11 L374.60,39.14 L375.30,39.17 L376.00,39.21 L376.70,39.24 L377.40,39.27 L378.10,39.31 L378.80,39.34 L379.50,39.38 L380.20,39.40 L380.90,39.40 L381.60,39.40 L382.30,39.40 L382.90,39.40 Z" fill="rgb(252,216,222)"/>
<path d="M268.90,39.20 L269.60,39.15 L270.30,39.16 L271.00,39.12 L271.70,39.03 L272.40,38.96 L273.10,38.99 L273.80,38.96 L274.50,38.79 L275.20,38.92 L275.90,38.74 L276.60,38.64 L277.30,38.71 L278.00,38.68 L278.70,38.60 L279.40,38.44 L280.10,38.46 L280.80,38.56 L281.50,38.39 L282.20,38.23 L282.90,38.18 L283.60,38.17 L284.30,38.19 L285.00,38.28 L285.70,38.07 L286.40,38.05 L287.10,37.98 L287.80,37.82 L288.50,37.88 L289.20,37.83 L289.90,37.76 L290.60,37.67 L291.30,37.53 L292.00,37.35 L292.70,37.05 L293.40,36.90 L294.10,36.80 L294.80,36.49 L295.50,36.39 L296.20,36.34 L296.90,36.00 L297.60,35.89 L298.30,35.82 L299.00,35.44 L299.70,35.30 L300.40,35.10 L301.10,34.77 L301.80,34.88 L302.50,34.56 L303.20,34.25 L303.90,33.94 L304.60,33.85 L305.30,33.51 L306.00,33.05 L306.70,32.43 L307.40,31.81 L308.10,31.73 L308.80,31.40 L309.50,30.57 L310.20,29.86 L310.90,29.08 L311.60,27.75 L312.30,26.76 L313.00,26.26 L313.70,25.27 L314.40,24.02 L315.10,23.61 L315.80,23.42 L316.50,22.30 L317.20,22.07 L317.90,20.95 L318.60,20.74 L319.30,20.01 L320.00,19.13 L320.70,19.03 L321.40,18.87 L322.10,18.65 L322.80,16.81 L323.50,16.71 L324.20,17.79 L324.90,17.46 L325.60,16.49 L326.30,17.04 L327.00,16.63 L327.70,16.27 L328.40,16.84 L329.10,17.18 L329.80,17.57 L330.50,17.56 L331.20,17.51 L331.90,17.24 L332.60,18.19 L333.30,19.41 L334.00,19.47 L334.70,20.43 L335.40,21.73 L336.10,21.71 L336.80,21.89 L337.50,23.24 L338.20,23.34 L338.90,24.51 L339.60,25.09 L340.30,26.19 L341.00,25.85 L341.70,27.07 L342.40,27.62 L343.10,28.72 L343.80,29.66 L344.50,29.72 L345.20,30.85 L345.90,31.08 L346.60,32.09 L347.30,32.23 L348.00,33.05 L348.70,33.64 L349.40,33.72 L350.10,34.27 L350.80,34.70 L351.50,35.03 L352.20,35.65 L352.90,36.12 L353.60,36.42 L354.30,36.69 L355.00,36.92 L355.70,37.10 L356.40,37.30 L357.10,37.48 L357.80,37.76 L358.50,37.90 L359.20,38.05 L359.90,38.33 L360.60,38.32 L361.30,38.47 L362.00,38.41 L362.70,38.44 L363.40,38.57 L364.10,38.69 L364.80,38.62 L365.50,38.65 L366.20,38.57 L366.90,38.76 L367.60,38.64 L368.30,39.01 L369.00,38.88 L369.70,38.94 L370.40,38.97 L371.10,39.02 L371.80,39.02 L372.50,38.92 L373.20,39.10 L373.90,39.11 L374.60,39.14 L375.30,39.17" fill="none" stroke="rgb(245,165,175)" stroke-width="0.6"/>
<path d="M263.30,52.59 L263.30,52.59 L264.00,52.59 L264.70,52.59 L265.40,52.59 L266.10,52.59 L266.80,52.59 L267.50,52.59 L268.20,52.59 L268.90,52.59 L269.60,52.59 L270.30,52.59 L271.00,52.59 L271.70,52.59 L272.40,52.59 L273.10,52.59 L273.80,52.59 L274.50,52.59 L275.20,52.59 L275.90,52.59 L276.60,52.59 L277.30,52.59 L278.00,52.59 L278.70,52.59 L279.40,52.59 L280.10,52.59 L280.80,52.52 L281.50,52.45 L282.20,52.38 L282.90,52.31 L283.60,52.24 L284.30,52.10 L285.00,52.12 L285.70,52.02 L286.40,51.79 L287.10,51.63 L287.80,51.58 L288.50,51.37 L289.20,51.19 L289.90,51.16 L290.60,51.07 L291.30,50.84 L292.00,50.71 L292.70,50.50 L293.40,50.56 L294.10,50.38 L294.80,50.25 L295.50,50.19 L296.20,49.90 L296.90,49.73 L297.60,49.70 L298.30,49.39 L299.00,49.08 L299.70,48.75 L300.40,48.42 L301.10,48.01 L301.80,47.94 L302.50,47.35 L303.20,47.00 L303.90,47.00 L304.60,46.34 L305.30,46.04 L306.00,45.38 L306.70,45.13 L307.40,44.57 L308.10,44.02 L308.80,43.82 L309.50,43.00 L310.20,42.59 L310.90,41.62 L311.60,41.10 L312.30,39.79 L313.00,39.12 L313.70,38.57 L314.40,37.46 L315.10,36.40 L315.80,35.45 L316.50,36.18 L317.20,34.40 L317.90,33.88 L318.60,33.53 L319.30,33.49 L320.00,31.84 L320.70,32.65 L321.40,31.18 L322.10,30.27 L322.80,31.95 L323.50,32.09 L324.20,33.46 L324.90,32.45 L325.60,31.57 L326.30,31.07 L327.00,33.00 L327.70,32.54 L328.40,32.05 L329.10,31.78 L329.80,32.54 L330.50,33.43 L331.20,33.27 L331.90,33.79 L332.60,34.24 L333.30,34.84 L334.00,34.84 L334.70,35.40 L335.40,36.08 L336.10,36.65 L336.80,37.61 L337.50,38.00 L338.20,38.10 L338.90,39.32 L339.60,40.43 L340.30,40.28 L341.00,41.22 L341.70,41.39 L342.40,42.54 L343.10,43.26 L343.80,44.07 L344.50,44.06 L345.20,44.43 L345.90,45.67 L346.60,46.22 L347.30,46.48 L348.00,47.13 L348.70,47.48 L349.40,47.92 L350.10,48.29 L350.80,48.64 L351.50,49.18 L352.20,49.54 L352.90,50.09 L353.60,50.34 L354.30,50.69 L355.00,50.78 L355.70,50.75 L356.40,51.01 L357.10,51.07 L357.80,51.22 L358.50,51.31 L359.20,51.50 L359.90,51.63 L360.60,51.87 L361.30,52.07 L362.00,52.20 L362.70,52.26 L363.40,52.30 L364.10,52.38 L364.80,52.46 L365.50,52.54 L366.20,52.59 L366.90,52.59 L367.60,52.59 L368.30,52.59 L369.00,52.59 L369.70,52.59 L370.40,52.59 L371.10,52.59 L371.80,52.59 L372.50,52.59 L373.20,52.59 L373.90,52.59 L374.60,52.59 L375.30,52.59 L376.00,52.59 L376.70,52.59 L377.40,52.59 L378.10,52.59 L378.80,52.59 L379.50,52.59 L380.20,52.59 L380.90,52.59 L381.60,52.59 L382.30,52.59 L382.90,52.59 Z" fill="rgb(250,200,206)"/>
<path d="M263.30,52.59 L263.30,52.59 L264.00,52.59 L264.70,52.59 L265.40,52.59 L266.10,52.59 L266.80,52.59 L267.50,52.59 L268.20,52.59 L268.90,52.59 L269.60,52.59 L270.30,52.59 L271.00,52.59 L271.70,52.59 L272.40,52.59 L273.10,52.59 L273.80,52.59 L274.50,52.59 L275.20,52.59 L275.90,52.59 L276.60,52.59 L277.30,52.59 L278.00,52.59 L278.70,52.59 L279.40,52.59 L280.10,52.59 L280.80,52.52 L281.50,52.45 L282.20,52.38 L282.90,52.31 L283.60,52.24 L284.30,52.10 L285.00,52.12 L285.70,52.02 L286.40,51.79 L287.10,51.63 L287.80,51.58 L288.50,51.37 L289.20,51.19 L289.90,51.16 L290.60,51.07 L291.30,50.84 L292.00,50.71 L292.70,50.50 L293.40,50.56 L294.10,50.38 L294.80,50.25 L295.50,50.19 L296.20,49.90 L296.90,49.73 L297.60,49.70 L298.30,49.39 L299.00,49.08 L299.70,48.75 L300.40,48.42 L301.10,48.01 L301.80,47.94 L302.50,47.35 L303.20,47.00 L303.90,47.00 L304.60,46.34 L305.30,46.04 L306.00,45.38 L306.70,45.13 L307.40,44.57 L308.10,44.02 L308.80,43.82 L309.50,43.00 L310.20,42.59 L310.90,41.62 L311.60,41.10 L312.30,39.79 L313.00,39.12 L313.70,38.57 L314.40,37.46 L315.10,36.40 L315.80,35.45 L316.50,36.18 L317.20,34.40 L317.90,33.88 L318.60,33.53 L319.30,33.49 L320.00,31.84 L320.70,32.65 L321.40,31.18 L322.10,30.27 L322.80,31.95 L323.50,32.09 L324.20,33.46 L324.90,32.45 L325.60,31.57 L326.30,31.07 L327.00,33.00 L327.70,32.54 L328.40,32.05 L329.10,31.78 L329.80,32.54 L330.50,33.43 L331.20,33.27 L331.90,33.79 L332.60,34.24 L333.30,34.84 L334.00,34.84 L334.70,35.40 L335.40,36.08 L336.10,36.65 L336.80,37.61 L337.50,38.00 L338.20,38.10 L338.90,39.32 L339.60,40.43 L340.30,40.28 L341.00,41.22 L341.70,41.39 L342.40,42.54 L343.10,43.26 L343.80,44.07 L344.50,44.06 L345.20,44.43 L345.90,45.67 L346.60,46.22 L347.30,46.48 L348.00,47.13 L348.70,47.48 L349.40,47.92 L350.10,48.29 L350.80,48.64 L351.50,49.18 L352.20,49.54 L352.90,50.09 L353.60,50.34 L354.30,50.69 L355.00,50.78 L355.70,50.75 L356.40,51.01 L357.10,51.07 L357.80,51.22 L358.50,51.31 L359.20,51.50 L359.90,51.63 L360.60,51.87 L361.30,52.07 L362.00,52.20 L362.70,52.26 L363.40,52.30 L364.10,52.38 L364.80,52.46 L365.50,52.54 L366.20,52.59 L366.90,52.59 L367.60,52.59 L368.30,52.59 L369.00,52.59 L369.70,52.59 L370.40,52.59 L371.10,52.59 L371.80,52.59 L372.50,52.59 L373.20,52.59 L373.90,52.59 L374.60,52.59 L375.30,52.59 L376.00,52.59 L376.70,52.59 L377.40,52.59 L378.10,52.59 L378.80,52.59 L379.50,52.59 L380.20,52.59 L380.90,52.59 L381.60,52.59 L382.30,52.59 L382.90,52.59 Z" fill="rgb(247,170,178)" clip-path="url(#hc0)"/>
<path d="M282.20,52.38 L282.90,52.31 L283.60,52.24 L284.30,52.10 L285.00,52.12 L285.70,52.02 L286.40,51.79 L287.10,51.63 L287.80,51.58 L288.50,51.37 L289.20,51.19 L289.90,51.16 L290.60,51.07 L291.30,50.84 L292.00,50.71 L292.70,50.50 L293.40,50.56 L294.10,50.38 L294.80,50.25 L295.50,50.19 L296.20,49.90 L296.90,49.73 L297.60,49.70 L298.30,49.39 L299.00,49.08 L299.70,48.75 L300.40,48.42 L301.10,48.01 L301.80,47.94 L302.50,47.35 L303.20,47.00 L303.90,47.00 L304.60,46.34 L305.30,46.04 L306.00,45.38 L306.70,45.13 L307.40,44.57 L308.10,44.02 L308.80,43.82 L309.50,43.00 L310.20,42.59 L310.90,41.62 L311.60,41.10 L312.30,39.79 L313.00,39.12 L313.70,38.57 L314.40,37.46 L315.10,36.40 L315.80,35.45 L316.50,36.18 L317.20,34.40 L317.90,33.88 L318.60,33.53 L319.30,33.49 L320.00,31.84 L320.70,32.65 L321.40,31.18 L322.10,30.27 L322.80,31.95 L323.50,32.09 L324.20,33.46 L324.90,32.45 L325.60,31.57 L326.30,31.07 L327.00,33.00 L327.70,32.54 L328.40,32.05 L329.10,31.78 L329.80,32.54 L330.50,33.43 L331.20,33.27 L331.90,33.79 L332.60,34.24 L333.30,34.84 L334.00,34.84 L334.70,35.40 L335.40,36.08 L336.10,36.65 L336.80,37.61 L337.50,38.00 L338.20,38.10 L338.90,39.32 L339.60,40.43 L340.30,40.28 L341.00,41.22 L341.70,41.39 L342.40,42.54 L343.10,43.26 L343.80,44.07 L344.50,44.06 L345.20,44.43 L345.90,45.67 L346.60,46.22 L347.30,46.48 L348.00,47.13 L348.70,47.48 L349.40,47.92 L350.10,48.29 L350.80,48.64 L351.50,49.18 L352.20,49.54 L352.90,50.09 L353.60,50.34 L354.30,50.69 L355.00,50.78 L355.70,50.75 L356.40,51.01 L357.10,51.07 L357.80,51.22 L358.50,51.31 L359.20,51.50 L359.90,51.63 L360.60,51.87 L361.30,52.07 L362.00,52.20 L362.70,52.26 L363.40,52.30 L364.10,52.38" fill="none" stroke="rgb(240,130,142)" stroke-width="0.6"/>
<path d="M263.30,65.78 L263.30,65.78 L264.00,65.78 L264.70,65.78 L265.40,65.78 L266.10,65.78 L266.80,65.78 L267.50,65.78 L268.20,65.78 L268.90,65.78 L269.60,65.78 L270.30,65.78 L271.00,65.78 L271.70,65.78 L272.40,65.78 L273.10,65.78 L273.80,65.78 L274.50,65.78 L275.20,65.78 L275.90,65.78 L276.60,65.78 L277.30,65.78 L278.00,65.78 L278.70,65.77 L279.40,65.74 L280.10,65.71 L280.80,65.68 L281.50,65.65 L282.20,65.63 L282.90,65.60 L283.60,65.57 L284.30,65.54 L285.00,65.51 L285.70,65.47 L286.40,65.44 L287.10,65.24 L287.80,65.16 L288.50,65.02 L289.20,64.98 L289.90,64.83 L290.60,64.59 L291.30,64.61 L292.00,64.59 L292.70,64.37 L293.40,64.36 L294.10,64.20 L294.80,64.10 L295.50,64.09 L296.20,64.11 L296.90,63.88 L297.60,63.63 L298.30,63.42 L299.00,63.06 L299.70,62.73 L300.40,62.56 L301.10,62.12 L301.80,61.79 L302.50,61.54 L303.20,61.24 L303.90,60.95 L304.60,60.51 L305.30,60.19 L306.00,59.53 L306.70,58.74 L307.40,58.33 L308.10,57.79 L308.80,56.98 L309.50,55.98 L310.20,55.03 L310.90,54.68 L311.60,53.90 L312.30,52.46 L313.00,51.43 L313.70,50.40 L314.40,49.11 L315.10,47.85 L315.80,47.54 L316.50,47.00 L317.20,47.42 L317.90,47.10 L318.60,46.18 L319.30,45.72 L320.00,45.45 L320.70,44.90 L321.40,44.18 L322.10,43.71 L322.80,44.65 L323.50,43.69 L324.20,43.30 L324.90,44.02 L325.60,45.80 L326.30,44.64 L327.00,45.65 L327.70,45.69 L328.40,45.25 L329.10,44.82 L329.80,45.74 L330.50,44.32 L331.20,45.22 L331.90,46.17 L332.60,46.46 L333.30,47.88 L334.00,47.78 L334.70,48.09 L335.40,49.14 L336.10,49.65 L336.80,50.31 L337.50,51.31 L338.20,52.07 L338.90,53.48 L339.60,54.62 L340.30,55.16 L341.00,55.50 L341.70,56.78 L342.40,57.29 L343.10,58.40 L343.80,58.57 L344.50,59.28 L345.20,59.63 L345.90,60.27 L346.60,60.82 L347.30,61.03 L348.00,61.49 L348.70,62.08 L349.40,62.56 L350.10,62.84 L350.80,63.17 L351.50,63.15 L352.20,63.63 L352.90,63.83 L353.60,64.01 L354.30,64.35 L355.00,64.50 L355.70,64.50 L356.40,64.86 L357.10,65.11 L357.80,65.37 L358.50,65.30 L359.20,65.35 L359.90,65.44 L360.60,65.52 L361.30,65.58 L362.00,65.64 L362.70,65.69 L363.40,65.75 L364.10,65.78 L364.80,65.78 L365.50,65.78 L366.20,65.78 L366.90,65.78 L367.60,65.78 L368.30,65.78 L369.00,65.78 L369.70,65.78 L370.40,65.78 L371.10,65.78 L371.80,65.78 L372.50,65.78 L373.20,65.78 L373.90,65.78 L374.60,65.78 L375.30,65.78 L376.00,65.78 L376.70,65.78 L377.40,65.78 L378.10,65.78 L378.80,65.78 L379.50,65.78 L380.20,65.78 L380.90,65.78 L381.60,65.78 L382.30,65.78 L382.90,65.78 Z" fill="rgb(250,186,192)"/>
<path d="M263.30,65.78 L263.30,65.78 L264.00,65.78 L264.70,65.78 L265.40,65.78 L266.10,65.78 L266.80,65.78 L267.50,65.78 L268.20,65.78 L268.90,65.78 L269.60,65.78 L270.30,65.78 L271.00,65.78 L271.70,65.78 L272.40,65.78 L273.10,65.78 L273.80,65.78 L274.50,65.78 L275.20,65.78 L275.90,65.78 L276.60,65.78 L277.30,65.78 L278.00,65.78 L278.70,65.77 L279.40,65.74 L280.10,65.71 L280.80,65.68 L281.50,65.65 L282.20,65.63 L282.90,65.60 L283.60,65.57 L284.30,65.54 L285.00,65.51 L285.70,65.47 L286.40,65.44 L287.10,65.24 L287.80,65.16 L288.50,65.02 L289.20,64.98 L289.90,64.83 L290.60,64.59 L291.30,64.61 L292.00,64.59 L292.70,64.37 L293.40,64.36 L294.10,64.20 L294.80,64.10 L295.50,64.09 L296.20,64.11 L296.90,63.88 L297.60,63.63 L298.30,63.42 L299.00,63.06 L299.70,62.73 L300.40,62.56 L301.10,62.12 L301.80,61.79 L302.50,61.54 L303.20,61.24 L303.90,60.95 L304.60,60.51 L305.30,60.19 L306.00,59.53 L306.70,58.74 L307.40,58.33 L308.10,57.79 L308.80,56.98 L309.50,55.98 L310.20,55.03 L310.90,54.68 L311.60,53.90 L312.30,52.46 L313.00,51.43 L313.70,50.40 L314.40,49.11 L315.10,47.85 L315.80,47.54 L316.50,47.00 L317.20,47.42 L317.90,47.10 L318.60,46.18 L319.30,45.72 L320.00,45.45 L320.70,44.90 L321.40,44.18 L322.10,43.71 L322.80,44.65 L323.50,43.69 L324.20,43.30 L324.90,44.02 L325.60,45.80 L326.30,44.64 L327.00,45.65 L327.70,45.69 L328.40,45.25 L329.10,44.82 L329.80,45.74 L330.50,44.32 L331.20,45.22 L331.90,46.17 L332.60,46.46 L333.30,47.88 L334.00,47.78 L334.70,48.09 L335.40,49.14 L336.10,49.65 L336.80,50.31 L337.50,51.31 L338.20,52.07 L338.90,53.48 L339.60,54.62 L340.30,55.16 L341.00,55.50 L341.70,56.78 L342.40,57.29 L343.10,58.40 L343.80,58.57 L344.50,59.28 L345.20,59.63 L345.90,60.27 L346.60,60.82 L347.30,61.03 L348.00,61.49 L348.70,62.08 L349.40,62.56 L350.10,62.84 L350.80,63.17 L351.50,63.15 L352.20,63.63 L352.90,63.83 L353.60,64.01 L354.30,64.35 L355.00,64.50 L355.70,64.50 L356.40,64.86 L357.10,65.11 L357.80,65.37 L358.50,65.30 L359.20,65.35 L359.90,65.44 L360.60,65.52 L361.30,65.58 L362.00,65.64 L362.70,65.69 L363.40,65.75 L364.10,65.78 L364.80,65.78 L365.50,65.78 L366.20,65.78 L366.90,65.78 L367.60,65.78 L368.30,65.78 L369.00,65.78 L369.70,65.78 L370.40,65.78 L371.10,65.78 L371.80,65.78 L372.50,65.78 L373.20,65.78 L373.90,65.78 L374.60,65.78 L375.30,65.78 L376.00,65.78 L376.70,65.78 L377.40,65.78 L378.10,65.78 L378.80,65.78 L379.50,65.78 L380.20,65.78 L380.90,65.78 L381.60,65.78 L382.30,65.78 L382.90,65.78 Z" fill="rgb(245,135,146)" clip-path="url(#hc1)"/>
<path d="M284.30,65.54 L285.00,65.51 L285.70,65.47 L286.40,65.44 L287.10,65.24 L287.80,65.16 L288.50,65.02 L289.20,64.98 L289.90,64.83 L290.60,64.59 L291.30,64.61 L292.00,64.59 L292.70,64.37 L293.40,64.36 L294.10,64.20 L294.80,64.10 L295.50,64.09 L296.20,64.11 L296.90,63.88 L297.60,63.63 L298.30,63.42 L299.00,63.06 L299.70,62.73 L300.40,62.56 L301.10,62.12 L301.80,61.79 L302.50,61.54 L303.20,61.24 L303.90,60.95 L304.60,60.51 L305.30,60.19 L306.00,59.53 L306.70,58.74 L307.40,58.33 L308.10,57.79 L308.80,56.98 L309.50,55.98 L310.20,55.03 L310.90,54.68 L311.60,53.90 L312.30,52.46 L313.00,51.43 L313.70,50.40 L314.40,49.11 L315.10,47.85 L315.80,47.54 L316.50,47.00 L317.20,47.42 L317.90,47.10 L318.60,46.18 L319.30,45.72 L320.00,45.45 L320.70,44.90 L321.40,44.18 L322.10,43.71 L322.80,44.65 L323.50,43.69 L324.20,43.30 L324.90,44.02 L325.60,45.80 L326.30,44.64 L327.00,45.65 L327.70,45.69 L328.40,45.25 L329.10,44.82 L329.80,45.74 L330.50,44.32 L331.20,45.22 L331.90,46.17 L332.60,46.46 L333.30,47.88 L334.00,47.78 L334.70,48.09 L335.40,49.14 L336.10,49.65 L336.80,50.31 L337.50,51.31 L338.20,52.07 L338.90,53.48 L339.60,54.62 L340.30,55.16 L341.00,55.50 L341.70,56.78 L342.40,57.29 L343.10,58.40 L343.80,58.57 L344.50,59.28 L345.20,59.63 L345.90,60.27 L346.60,60.82 L347.30,61.03 L348.00,61.49 L348.70,62.08 L349.40,62.56 L350.10,62.84 L350.80,63.17 L351.50,63.15 L352.20,63.63 L352.90,63.83 L353.60,64.01 L354.30,64.35 L355.00,64.50 L355.70,64.50 L356.40,64.86 L357.10,65.11 L357.80,65.37 L358.50,65.30 L359.20,65.35 L359.90,65.44 L360.60,65.52 L361.30,65.58" fill="none" stroke="rgb(236,100,112)" stroke-width="0.6"/>
<path d="M263.30,78.97 L263.30,78.97 L264.00,78.97 L264.70,78.97 L265.40,78.97 L266.10,78.97 L266.80,78.97 L267.50,78.97 L268.20,78.97 L268.90,78.97 L269.60,78.97 L270.30,78.97 L271.00,78.97 L271.70,78.97 L272.40,78.97 L273.10,78.97 L273.80,78.97 L274.50,78.97 L275.20,78.97 L275.90,78.97 L276.60,78.97 L277.30,78.97 L278.00,78.97 L278.70,78.97 L279.40,78.97 L280.10,78.89 L280.80,78.84 L281.50,78.79 L282.20,78.74 L282.90,78.69 L283.60,78.61 L284.30,78.50 L285.00,78.52 L285.70,78.51 L286.40,78.50 L287.10,78.41 L287.80,78.24 L288.50,78.17 L289.20,78.12 L289.90,78.07 L290.60,77.77 L291.30,77.80 L292.00,77.59 L292.70,77.47 L293.40,77.21 L294.10,77.11 L294.80,76.95 L295.50,76.83 L296.20,76.77 L296.90,76.53 L297.60,76.32 L298.30,76.30 L299.00,76.11 L299.70,76.03 L300.40,75.77 L301.10,75.52 L301.80,75.21 L302.50,74.97 L303.20,74.55 L303.90,74.47 L304.60,74.18 L305.30,73.93 L306.00,73.50 L306.70,73.37 L307.40,73.10 L308.10,72.53 L308.80,71.87 L309.50,71.38 L310.20,71.42 L310.90,70.53 L311.60,69.99 L312.30,69.46 L313.00,68.40 L313.70,66.84 L314.40,66.50 L315.10,65.44 L315.80,63.55 L316.50,62.58 L317.20,61.65 L317.90,61.08 L318.60,59.92 L319.30,59.18 L320.00,59.77 L320.70,59.11 L321.40,57.23 L322.10,57.05 L322.80,57.49 L323.50,57.51 L324.20,56.83 L324.90,57.12 L325.60,56.41 L326.30,55.07 L327.00,55.83 L327.70,55.62 L328.40,56.72 L329.10,56.76 L329.80,56.58 L330.50,58.33 L331.20,58.47 L331.90,59.07 L332.60,59.57 L333.30,59.71 L334.00,60.90 L334.70,62.65 L335.40,63.01 L336.10,64.09 L336.80,64.91 L337.50,64.64 L338.20,66.33 L338.90,66.63 L339.60,67.60 L340.30,67.69 L341.00,68.31 L341.70,68.85 L342.40,69.38 L343.10,69.59 L343.80,70.52 L344.50,70.93 L345.20,71.43 L345.90,71.43 L346.60,72.14 L347.30,72.69 L348.00,73.03 L348.70,73.07 L349.40,73.85 L350.10,74.18 L350.80,74.55 L351.50,74.87 L352.20,75.21 L352.90,75.45 L353.60,75.73 L354.30,76.16 L355.00,76.04 L355.70,76.46 L356.40,76.80 L357.10,77.10 L357.80,77.43 L358.50,77.40 L359.20,77.59 L359.90,77.62 L360.60,77.87 L361.30,77.82 L362.00,77.78 L362.70,78.06 L363.40,78.06 L364.10,78.21 L364.80,78.22 L365.50,78.31 L366.20,78.49 L366.90,78.63 L367.60,78.64 L368.30,78.73 L369.00,78.80 L369.70,78.87 L370.40,78.97 L371.10,78.97 L371.80,78.97 L372.50,78.97 L373.20,78.97 L373.90,78.97 L374.60,78.97 L375.30,78.97 L376.00,78.97 L376.70,78.97 L377.40,78.97 L378.10,78.97 L378.80,78.97 L379.50,78.97 L380.20,78.97 L380.90,78.97 L381.60,78.97 L382.30,78.97 L382.90,78.97 Z" fill="rgb(250,168,173)"/>
<path d="M263.30,78.97 L263.30,78.97 L264.00,78.97 L264.70,78.97 L265.40,78.97 L266.10,78.97 L266.80,78.97 L267.50,78.97 L268.20,78.97 L268.90,78.97 L269.60,78.97 L270.30,78.97 L271.00,78.97 L271.70,78.97 L272.40,78.97 L273.10,78.97 L273.80,78.97 L274.50,78.97 L275.20,78.97 L275.90,78.97 L276.60,78.97 L277.30,78.97 L278.00,78.97 L278.70,78.97 L279.40,78.97 L280.10,78.89 L280.80,78.84 L281.50,78.79 L282.20,78.74 L282.90,78.69 L283.60,78.61 L284.30,78.50 L285.00,78.52 L285.70,78.51 L286.40,78.50 L287.10,78.41 L287.80,78.24 L288.50,78.17 L289.20,78.12 L289.90,78.07 L290.60,77.77 L291.30,77.80 L292.00,77.59 L292.70,77.47 L293.40,77.21 L294.10,77.11 L294.80,76.95 L295.50,76.83 L296.20,76.77 L296.90,76.53 L297.60,76.32 L298.30,76.30 L299.00,76.11 L299.70,76.03 L300.40,75.77 L301.10,75.52 L301.80,75.21 L302.50,74.97 L303.20,74.55 L303.90,74.47 L304.60,74.18 L305.30,73.93 L306.00,73.50 L306.70,73.37 L307.40,73.10 L308.10,72.53 L308.80,71.87 L309.50,71.38 L310.20,71.42 L310.90,70.53 L311.60,69.99 L312.30,69.46 L313.00,68.40 L313.70,66.84 L314.40,66.50 L315.10,65.44 L315.80,63.55 L316.50,62.58 L317.20,61.65 L317.90,61.08 L318.60,59.92 L319.30,59.18 L320.00,59.77 L320.70,59.11 L321.40,57.23 L322.10,57.05 L322.80,57.49 L323.50,57.51 L324.20,56.83 L324.90,57.12 L325.60,56.41 L326.30,55.07 L327.00,55.83 L327.70,55.62 L328.40,56.72 L329.10,56.76 L329.80,56.58 L330.50,58.33 L331.20,58.47 L331.90,59.07 L332.60,59.57 L333.30,59.71 L334.00,60.90 L334.70,62.65 L335.40,63.01 L336.10,64.09 L336.80,64.91 L337.50,64.64 L338.20,66.33 L338.90,66.63 L339.60,67.60 L340.30,67.69 L341.00,68.31 L341.70,68.85 L342.40,69.38 L343.10,69.59 L343.80,70.52 L344.50,70.93 L345.20,71.43 L345.90,71.43 L346.60,72.14 L347.30,72.69 L348.00,73.03 L348.70,73.07 L349.40,73.85 L350.10,74.18 L350.80,74.55 L351.50,74.87 L352.20,75.21 L352.90,75.45 L353.60,75.73 L354.30,76.16 L355.00,76.04 L355.70,76.46 L356.40,76.80 L357.10,77.10 L357.80,77.43 L358.50,77.40 L359.20,77.59 L359.90,77.62 L360.60,77.87 L361.30,77.82 L362.00,77.78 L362.70,78.06 L363.40,78.06 L364.10,78.21 L364.80,78.22 L365.50,78.31 L366.20,78.49 L366.90,78.63 L367.60,78.64 L368.30,78.73 L369.00,78.80 L369.70,78.87 L370.40,78.97 L371.10,78.97 L371.80,78.97 L372.50,78.97 L373.20,78.97 L373.90,78.97 L374.60,78.97 L375.30,78.97 L376.00,78.97 L376.70,78.97 L377.40,78.97 L378.10,78.97 L378.80,78.97 L379.50,78.97 L380.20,78.97 L380.90,78.97 L381.60,78.97 L382.30,78.97 L382.90,78.97 Z" fill="rgb(240,88,100)" clip-path="url(#hc2)"/>
<path d="M282.20,78.74 L282.90,78.69 L283.60,78.61 L284.30,78.50 L285.00,78.52 L285.70,78.51 L286.40,78.50 L287.10,78.41 L287.80,78.24 L288.50,78.17 L289.20,78.12 L289.90,78.07 L290.60,77.77 L291.30,77.80 L292.00,77.59 L292.70,77.47 L293.40,77.21 L294.10,77.11 L294.80,76.95 L295.50,76.83 L296.20,76.77 L296.90,76.53 L297.60,76.32 L298.30,76.30 L299.00,76.11 L299.70,76.03 L300.40,75.77 L301.10,75.52 L301.80,75.21 L302.50,74.97 L303.20,74.55 L303.90,74.47 L304.60,74.18 L305.30,73.93 L306.00,73.50 L306.70,73.37 L307.40,73.10 L308.10,72.53 L308.80,71.87 L309.50,71.38 L310.20,71.42 L310.90,70.53 L311.60,69.99 L312.30,69.46 L313.00,68.40 L313.70,66.84 L314.40,66.50 L315.10,65.44 L315.80,63.55 L316.50,62.58 L317.20,61.65 L317.90,61.08 L318.60,59.92 L319.30,59.18 L320.00,59.77 L320.70,59.11 L321.40,57.23 L322.10,57.05 L322.80,57.49 L323.50,57.51 L324.20,56.83 L324.90,57.12 L325.60,56.41 L326.30,55.07 L327.00,55.83 L327.70,55.62 L328.40,56.72 L329.10,56.76 L329.80,56.58 L330.50,58.33 L331.20,58.47 L331.90,59.07 L332.60,59.57 L333.30,59.71 L334.00,60.90 L334.70,62.65 L335.40,63.01 L336.10,64.09 L336.80,64.91 L337.50,64.64 L338.20,66.33 L338.90,66.63 L339.60,67.60 L340.30,67.69 L341.00,68.31 L341.70,68.85 L342.40,69.38 L343.10,69.59 L343.80,70.52 L344.50,70.93 L345.20,71.43 L345.90,71.43 L346.60,72.14 L347.30,72.69 L348.00,73.03 L348.70,73.07 L349.40,73.85 L350.10,74.18 L350.80,74.55 L351.50,74.87 L352.20,75.21 L352.90,75.45 L353.60,75.73 L354.30,76.16 L355.00,76.04 L355.70,76.46 L356.40,76.80 L357.10,77.10 L357.80,77.43 L358.50,77.40 L359.20,77.59 L359.90,77.62 L360.60,77.87 L361.30,77.82 L362.00,77.78 L362.70,78.06 L363.40,78.06 L364.10,78.21 L364.80,78.22 L365.50,78.31 L366.20,78.49 L366.90,78.63 L367.60,78.64 L368.30,78.73" fill="none" stroke="rgb(232,72,86)" stroke-width="0.6"/>
<path d="M263.30,92.16 L263.30,92.16 L264.00,92.16 L264.70,92.16 L265.40,92.16 L266.10,92.16 L266.80,92.16 L267.50,92.16 L268.20,92.16 L268.90,92.16 L269.60,92.16 L270.30,92.16 L271.00,92.16 L271.70,92.16 L272.40,92.16 L273.10,92.16 L273.80,92.16 L274.50,92.16 L275.20,92.16 L275.90,92.16 L276.60,92.16 L277.30,92.16 L278.00,92.16 L278.70,92.16 L279.40,92.13 L280.10,92.00 L280.80,91.87 L281.50,91.69 L282.20,91.76 L282.90,91.47 L283.60,91.47 L284.30,91.24 L285.00,91.20 L285.70,91.18 L286.40,91.00 L287.10,90.97 L287.80,90.70 L288.50,90.68 L289.20,90.50 L289.90,90.56 L290.60,90.23 L291.30,90.28 L292.00,90.04 L292.70,89.97 L293.40,90.03 L294.10,89.81 L294.80,89.77 L295.50,89.59 L296.20,89.40 L296.90,89.35 L297.60,89.22 L298.30,89.30 L299.00,88.92 L299.70,88.65 L300.40,88.32 L301.10,88.21 L301.80,87.84 L302.50,87.59 L303.20,87.55 L303.90,87.24 L304.60,86.79 L305.30,86.51 L306.00,85.70 L306.70,84.52 L307.40,83.79 L308.10,83.06 L308.80,82.15 L309.50,81.17 L310.20,79.95 L310.90,79.22 L311.60,78.23 L312.30,77.18 L313.00,77.09 L313.70,76.23 L314.40,75.44 L315.10,75.02 L315.80,73.50 L316.50,72.34 L317.20,72.28 L317.90,70.91 L318.60,71.31 L319.30,70.12 L320.00,69.78 L320.70,70.31 L321.40,70.87 L322.10,69.68 L322.80,69.95 L323.50,69.89 L324.20,69.40 L324.90,68.61 L325.60,69.50 L326.30,69.66 L327.00,70.77 L327.70,70.53 L328.40,71.35 L329.10,70.80 L329.80,71.75 L330.50,71.93 L331.20,72.35 L331.90,72.99 L332.60,73.07 L333.30,73.88 L334.00,74.82 L334.70,75.21 L335.40,75.65 L336.10,75.95 L336.80,77.01 L337.50,77.14 L338.20,78.50 L338.90,79.09 L339.60,80.17 L340.30,80.22 L341.00,81.43 L341.70,82.13 L342.40,82.39 L343.10,83.41 L343.80,84.02 L344.50,84.21 L345.20,84.94 L345.90,85.28 L346.60,86.01 L347.30,86.37 L348.00,86.86 L348.70,87.50 L349.40,87.86 L350.10,88.59 L350.80,89.04 L351.50,89.18 L352.20,89.27 L352.90,89.54 L353.60,89.72 L354.30,89.83 L355.00,89.91 L355.70,90.22 L356.40,90.45 L357.10,90.52 L357.80,90.63 L358.50,90.89 L359.20,91.00 L359.90,91.33 L360.60,91.34 L361.30,91.50 L362.00,91.59 L362.70,91.71 L363.40,91.77 L364.10,91.93 L364.80,92.03 L365.50,92.13 L366.20,92.16 L366.90,92.16 L367.60,92.16 L368.30,92.16 L369.00,92.16 L369.70,92.16 L370.40,92.16 L371.10,92.16 L371.80,92.16 L372.50,92.16 L373.20,92.16 L373.90,92.16 L374.60,92.16 L375.30,92.16 L376.00,92.16 L376.70,92.16 L377.40,92.16 L378.10,92.16 L378.80,92.16 L379.50,92.16 L380.20,92.16 L380.90,92.16 L381.60,92.16 L382.30,92.16 L382.90,92.16 Z" fill="rgb(248,161,166)"/>
<path d="M263.30,92.16 L263.30,92.16 L264.00,92.16 L264.70,92.16 L265.40,92.16 L266.10,92.16 L266.80,92.16 L267.50,92.16 L268.20,92.16 L268.90,92.16 L269.60,92.16 L270.30,92.16 L271.00,92.16 L271.70,92.16 L272.40,92.16 L273.10,92.16 L273.80,92.16 L274.50,92.16 L275.20,92.16 L275.90,92.16 L276.60,92.16 L277.30,92.16 L278.00,92.16 L278.70,92.16 L279.40,92.13 L280.10,92.00 L280.80,91.87 L281.50,91.69 L282.20,91.76 L282.90,91.47 L283.60,91.47 L284.30,91.24 L285.00,91.20 L285.70,91.18 L286.40,91.00 L287.10,90.97 L287.80,90.70 L288.50,90.68 L289.20,90.50 L289.90,90.56 L290.60,90.23 L291.30,90.28 L292.00,90.04 L292.70,89.97 L293.40,90.03 L294.10,89.81 L294.80,89.77 L295.50,89.59 L296.20,89.40 L296.90,89.35 L297.60,89.22 L298.30,89.30 L299.00,88.92 L299.70,88.65 L300.40,88.32 L301.10,88.21 L301.80,87.84 L302.50,87.59 L303.20,87.55 L303.90,87.24 L304.60,86.79 L305.30,86.51 L306.00,85.70 L306.70,84.52 L307.40,83.79 L308.10,83.06 L308.80,82.15 L309.50,81.17 L310.20,79.95 L310.90,79.22 L311.60,78.23 L312.30,77.18 L313.00,77.09 L313.70,76.23 L314.40,75.44 L315.10,75.02 L315.80,73.50 L316.50,72.34 L317.20,72.28 L317.90,70.91 L318.60,71.31 L319.30,70.12 L320.00,69.78 L320.70,70.31 L321.40,70.87 L322.10,69.68 L322.80,69.95 L323.50,69.89 L324.20,69.40 L324.90,68.61 L325.60,69.50 L326.30,69.66 L327.00,70.77 L327.70,70.53 L328.40,71.35 L329.10,70.80 L329.80,71.75 L330.50,71.93 L331.20,72.35 L331.90,72.99 L332.60,73.07 L333.30,73.88 L334.00,74.82 L334.70,75.21 L335.40,75.65 L336.10,75.95 L336.80,77.01 L337.50,77.14 L338.20,78.50 L338.90,79.09 L339.60,80.17 L340.30,80.22 L341.00,81.43 L341.70,82.13 L342.40,82.39 L343.10,83.41 L343.80,84.02 L344.50,84.21 L345.20,84.94 L345.90,85.28 L346.60,86.01 L347.30,86.37 L348.00,86.86 L348.70,87.50 L349.40,87.86 L350.10,88.59 L350.80,89.04 L351.50,89.18 L352.20,89.27 L352.90,89.54 L353.60,89.72 L354.30,89.83 L355.00,89.91 L355.70,90.22 L356.40,90.45 L357.10,90.52 L357.80,90.63 L358.50,90.89 L359.20,91.00 L359.90,91.33 L360.60,91.34 L361.30,91.50 L362.00,91.59 L362.70,91.71 L363.40,91.77 L364.10,91.93 L364.80,92.03 L365.50,92.13 L366.20,92.16 L366.90,92.16 L367.60,92.16 L368.30,92.16 L369.00,92.16 L369.70,92.16 L370.40,92.16 L371.10,92.16 L371.80,92.16 L372.50,92.16 L373.20,92.16 L373.90,92.16 L374.60,92.16 L375.30,92.16 L376.00,92.16 L376.70,92.16 L377.40,92.16 L378.10,92.16 L378.80,92.16 L379.50,92.16 L380.20,92.16 L380.90,92.16 L381.60,92.16 L382.30,92.16 L382.90,92.16 Z" fill="rgb(238,80,92)" clip-path="url(#hc3)"/>
<path d="M280.10,92.00 L280.80,91.87 L281.50,91.69 L282.20,91.76 L282.90,91.47 L283.60,91.47 L284.30,91.24 L285.00,91.20 L285.70,91.18 L286.40,91.00 L287.10,90.97 L287.80,90.70 L288.50,90.68 L289.20,90.50 L289.90,90.56 L290.60,90.23 L291.30,90.28 L292.00,90.04 L292.70,89.97 L293.40,90.03 L294.10,89.81 L294.80,89.77 L295.50,89.59 L296.20,89.40 L296.90,89.35 L297.60,89.22 L298.30,89.30 L299.00,88.92 L299.70,88.65 L300.40,88.32 L301.10,88.21 L301.80,87.84 L302.50,87.59 L303.20,87.55 L303.90,87.24 L304.60,86.79 L305.30,86.51 L306.00,85.70 L306.70,84.52 L307.40,83.79 L308.10,83.06 L308.80,82.15 L309.50,81.17 L310.20,79.95 L310.90,79.22 L311.60,78.23 L312.30,77.18 L313.00,77.09 L313.70,76.23 L314.40,75.44 L315.10,75.02 L315.80,73.50 L316.50,72.34 L317.20,72.28 L317.90,70.91 L318.60,71.31 L319.30,70.12 L320.00,69.78 L320.70,70.31 L321.40,70.87 L322.10,69.68 L322.80,69.95 L323.50,69.89 L324.20,69.40 L324.90,68.61 L325.60,69.50 L326.30,69.66 L327.00,70.77 L327.70,70.53 L328.40,71.35 L329.10,70.80 L329.80,71.75 L330.50,71.93 L331.20,72.35 L331.90,72.99 L332.60,73.07 L333.30,73.88 L334.00,74.82 L334.70,75.21 L335.40,75.65 L336.10,75.95 L336.80,77.01 L337.50,77.14 L338.20,78.50 L338.90,79.09 L339.60,80.17 L340.30,80.22 L341.00,81.43 L341.70,82.13 L342.40,82.39 L343.10,83.41 L343.80,84.02 L344.50,84.21 L345.20,84.94 L345.90,85.28 L346.60,86.01 L347.30,86.37 L348.00,86.86 L348.70,87.50 L349.40,87.86 L350.10,88.59 L350.80,89.04 L351.50,89.18 L352.20,89.27 L352.90,89.54 L353.60,89.72 L354.30,89.83 L355.00,89.91 L355.70,90.22 L356.40,90.45 L357.10,90.52 L357.80,90.63 L358.50,90.89 L359.20,91.00 L359.90,91.33 L360.60,91.34 L361.30,91.50 L362.00,91.59 L362.70,91.71 L363.40,91.77 L364.10,91.93" fill="none" stroke="rgb(228,64,78)" stroke-width="0.6"/>
<path d="M263.30,105.35 L263.30,105.35 L264.00,105.35 L264.70,105.35 L265.40,105.35 L266.10,105.35 L266.80,105.35 L267.50,105.35 L268.20,105.35 L268.90,105.35 L269.60,105.35 L270.30,105.35 L271.00,105.35 L271.70,105.35 L272.40,105.35 L273.10,105.35 L273.80,105.35 L274.50,105.35 L275.20,105.35 L275.90,105.35 L276.60,105.35 L277.30,105.35 L278.00,105.35 L278.70,105.35 L279.40,105.35 L280.10,105.35 L280.80,105.35 L281.50,105.23 L282.20,105.14 L282.90,105.05 L283.60,105.11 L284.30,104.69 L285.00,104.63 L285.70,104.41 L286.40,104.19 L287.10,104.02 L287.80,103.98 L288.50,103.57 L289.20,103.46 L289.90,103.31 L290.60,103.23 L291.30,103.13 L292.00,102.96 L292.70,102.67 L293.40,102.40 L294.10,101.91 L294.80,101.00 L295.50,100.61 L296.20,99.90 L296.90,99.31 L297.60,99.11 L298.30,98.08 L299.00,97.49 L299.70,97.24 L300.40,95.99 L301.10,95.56 L301.80,95.80 L302.50,96.00 L303.20,95.91 L303.90,94.70 L304.60,93.98 L305.30,93.09 L306.00,92.62 L306.70,91.74 L307.40,91.44 L308.10,92.25 L308.80,91.73 L309.50,91.66 L310.20,92.20 L310.90,92.37 L311.60,91.39 L312.30,90.56 L313.00,91.47 L313.70,91.35 L314.40,92.13 L315.10,90.73 L315.80,90.29 L316.50,90.17 L317.20,90.11 L317.90,88.57 L318.60,88.75 L319.30,89.03 L320.00,88.33 L320.70,89.56 L321.40,89.64 L322.10,88.15 L322.80,87.27 L323.50,87.27 L324.20,88.30 L324.90,88.20 L325.60,90.02 L326.30,89.64 L327.00,90.66 L327.70,92.65 L328.40,93.22 L329.10,94.36 L329.80,94.76 L330.50,94.73 L331.20,95.80 L331.90,95.99 L332.60,96.82 L333.30,97.80 L334.00,98.52 L334.70,99.26 L335.40,100.27 L336.10,100.69 L336.80,101.17 L337.50,101.94 L338.20,102.49 L338.90,102.96 L339.60,103.03 L340.30,103.29 L341.00,103.65 L341.70,103.82 L342.40,104.18 L343.10,104.54 L343.80,104.81 L344.50,105.04 L345.20,105.12 L345.90,105.28 L346.60,105.35 L347.30,105.35 L348.00,105.35 L348.70,105.35 L349.40,105.35 L350.10,105.35 L350.80,105.35 L351.50,105.35 L352.20,105.35 L352.90,105.35 L353.60,105.35 L354.30,105.35 L355.00,105.35 L355.70,105.35 L356.40,105.35 L357.10,105.35 L357.80,105.35 L358.50,105.35 L359.20,105.35 L359.90,105.35 L360.60,105.35 L361.30,105.35 L362.00,105.35 L362.70,105.35 L363.40,105.35 L364.10,105.35 L364.80,105.35 L365.50,105.35 L366.20,105.35 L366.90,105.35 L367.60,105.35 L368.30,105.35 L369.00,105.35 L369.70,105.35 L370.40,105.35 L371.10,105.35 L371.80,105.35 L372.50,105.35 L373.20,105.35 L373.90,105.35 L374.60,105.35 L375.30,105.35 L376.00,105.35 L376.70,105.35 L377.40,105.35 L378.10,105.35 L378.80,105.35 L379.50,105.35 L380.20,105.35 L380.90,105.35 L381.60,105.35 L382.30,105.35 L382.90,105.35 Z" fill="rgb(240,155,157)"/>
<path d="M263.30,105.35 L263.30,105.35 L264.00,105.35 L264.70,105.35 L265.40,105.35 L266.10,105.35 L266.80,105.35 L267.50,105.35 L268.20,105.35 L268.90,105.35 L269.60,105.35 L270.30,105.35 L271.00,105.35 L271.70,105.35 L272.40,105.35 L273.10,105.35 L273.80,105.35 L274.50,105.35 L275.20,105.35 L275.90,105.35 L276.60,105.35 L277.30,105.35 L278.00,105.35 L278.70,105.35 L279.40,105.35 L280.10,105.35 L280.80,105.35 L281.50,105.23 L282.20,105.14 L282.90,105.05 L283.60,105.11 L284.30,104.69 L285.00,104.63 L285.70,104.41 L286.40,104.19 L287.10,104.02 L287.80,103.98 L288.50,103.57 L289.20,103.46 L289.90,103.31 L290.60,103.23 L291.30,103.13 L292.00,102.96 L292.70,102.67 L293.40,102.40 L294.10,101.91 L294.80,101.00 L295.50,100.61 L296.20,99.90 L296.90,99.31 L297.60,99.11 L298.30,98.08 L299.00,97.49 L299.70,97.24 L300.40,95.99 L301.10,95.56 L301.80,95.80 L302.50,96.00 L303.20,95.91 L303.90,94.70 L304.60,93.98 L305.30,93.09 L306.00,92.62 L306.70,91.74 L307.40,91.44 L308.10,92.25 L308.80,91.73 L309.50,91.66 L310.20,92.20 L310.90,92.37 L311.60,91.39 L312.30,90.56 L313.00,91.47 L313.70,91.35 L314.40,92.13 L315.10,90.73 L315.80,90.29 L316.50,90.17 L317.20,90.11 L317.90,88.57 L318.60,88.75 L319.30,89.03 L320.00,88.33 L320.70,89.56 L321.40,89.64 L322.10,88.15 L322.80,87.27 L323.50,87.27 L324.20,88.30 L324.90,88.20 L325.60,90.02 L326.30,89.64 L327.00,90.66 L327.70,92.65 L328.40,93.22 L329.10,94.36 L329.80,94.76 L330.50,94.73 L331.20,95.80 L331.90,95.99 L332.60,96.82 L333.30,97.80 L334.00,98.52 L334.70,99.26 L335.40,100.27 L336.10,100.69 L336.80,101.17 L337.50,101.94 L338.20,102.49 L338.90,102.96 L339.60,103.03 L340.30,103.29 L341.00,103.65 L341.70,103.82 L342.40,104.18 L343.10,104.54 L343.80,104.81 L344.50,105.04 L345.20,105.12 L345.90,105.28 L346.60,105.35 L347.30,105.35 L348.00,105.35 L348.70,105.35 L349.40,105.35 L350.10,105.35 L350.80,105.35 L351.50,105.35 L352.20,105.35 L352.90,105.35 L353.60,105.35 L354.30,105.35 L355.00,105.35 L355.70,105.35 L356.40,105.35 L357.10,105.35 L357.80,105.35 L358.50,105.35 L359.20,105.35 L359.90,105.35 L360.60,105.35 L361.30,105.35 L362.00,105.35 L362.70,105.35 L363.40,105.35 L364.10,105.35 L364.80,105.35 L365.50,105.35 L366.20,105.35 L366.90,105.35 L367.60,105.35 L368.30,105.35 L369.00,105.35 L369.70,105.35 L370.40,105.35 L371.10,105.35 L371.80,105.35 L372.50,105.35 L373.20,105.35 L373.90,105.35 L374.60,105.35 L375.30,105.35 L376.00,105.35 L376.70,105.35 L377.40,105.35 L378.10,105.35 L378.80,105.35 L379.50,105.35 L380.20,105.35 L380.90,105.35 L381.60,105.35 L382.30,105.35 L382.90,105.35 Z" fill="rgb(226,85,93)" clip-path="url(#hc4)"/>
<path d="M282.20,105.14 L282.90,105.05 L283.60,105.11 L284.30,104.69 L285.00,104.63 L285.70,104.41 L286.40,104.19 L287.10,104.02 L287.80,103.98 L288.50,103.57 L289.20,103.46 L289.90,103.31 L290.60,103.23 L291.30,103.13 L292.00,102.96 L292.70,102.67 L293.40,102.40 L294.10,101.91 L294.80,101.00 L295.50,100.61 L296.20,99.90 L296.90,99.31 L297.60,99.11 L298.30,98.08 L299.00,97.49 L299.70,97.24 L300.40,95.99 L301.10,95.56 L301.80,95.80 L302.50,96.00 L303.20,95.91 L303.90,94.70 L304.60,93.98 L305.30,93.09 L306.00,92.62 L306.70,91.74 L307.40,91.44 L308.10,92.25 L308.80,91.73 L309.50,91.66 L310.20,92.20 L310.90,92.37 L311.60,91.39 L312.30,90.56 L313.00,91.47 L313.70,91.35 L314.40,92.13 L315.10,90.73 L315.80,90.29 L316.50,90.17 L317.20,90.11 L317.90,88.57 L318.60,88.75 L319.30,89.03 L320.00,88.33 L320.70,89.56 L321.40,89.64 L322.10,88.15 L322.80,87.27 L323.50,87.27 L324.20,88.30 L324.90,88.20 L325.60,90.02 L326.30,89.64 L327.00,90.66 L327.70,92.65 L328.40,93.22 L329.10,94.36 L329.80,94.76 L330.50,94.73 L331.20,95.80 L331.90,95.99 L332.60,96.82 L333.30,97.80 L334.00,98.52 L334.70,99.26 L335.40,100.27 L336.10,100.69 L336.80,101.17 L337.50,101.94 L338.20,102.49 L338.90,102.96 L339.60,103.03 L340.30,103.29 L341.00,103.65 L341.70,103.82 L342.40,104.18 L343.10,104.54 L343.80,104.81 L344.50,105.04 L345.20,105.12" fill="none" stroke="rgb(212,68,78)" stroke-width="0.6"/>
<path d="M263.30,118.54 L263.30,118.54 L264.00,118.54 L264.70,118.54 L265.40,118.54 L266.10,118.54 L266.80,118.54 L267.50,118.54 L268.20,118.54 L268.90,118.54 L269.60,118.54 L270.30,118.54 L271.00,118.54 L271.70,118.54 L272.40,117.88 L273.10,117.87 L273.80,117.77 L274.50,117.65 L275.20,117.55 L275.90,117.55 L276.60,117.17 L277.30,117.23 L278.00,116.95 L278.70,116.83 L279.40,116.67 L280.10,116.52 L280.80,116.42 L281.50,116.18 L282.20,116.22 L282.90,115.90 L283.60,115.97 L284.30,115.59 L285.00,115.58 L285.70,115.37 L286.40,115.02 L287.10,115.13 L287.80,114.71 L288.50,114.37 L289.20,114.09 L289.90,113.79 L290.60,113.63 L291.30,113.40 L292.00,113.15 L292.70,112.66 L293.40,112.23 L294.10,111.60 L294.80,111.28 L295.50,110.71 L296.20,110.03 L296.90,109.65 L297.60,109.55 L298.30,109.01 L299.00,108.27 L299.70,108.14 L300.40,107.99 L301.10,107.23 L301.80,106.07 L302.50,105.67 L303.20,105.07 L303.90,104.00 L304.60,103.85 L305.30,101.47 L306.00,101.49 L306.70,101.18 L307.40,99.55 L308.10,100.61 L308.80,99.69 L309.50,98.82 L310.20,98.81 L310.90,99.00 L311.60,99.06 L312.30,99.81 L313.00,100.12 L313.70,99.81 L314.40,99.58 L315.10,100.74 L315.80,103.35 L316.50,102.84 L317.20,104.05 L317.90,105.14 L318.60,106.53 L319.30,107.08 L320.00,107.74 L320.70,108.59 L321.40,107.85 L322.10,107.95 L322.80,108.20 L323.50,108.47 L324.20,108.67 L324.90,109.83 L325.60,110.71 L326.30,111.97 L327.00,112.26 L327.70,113.27 L328.40,113.60 L329.10,114.68 L329.80,114.92 L330.50,115.28 L331.20,115.83 L331.90,116.02 L332.60,116.40 L333.30,116.63 L334.00,116.74 L334.70,116.93 L335.40,116.97 L336.10,117.12 L336.80,117.30 L337.50,117.55 L338.20,117.68 L338.90,117.66 L339.60,117.86 L340.30,117.87 L341.00,117.95 L341.70,117.89 L342.40,117.90 L343.10,118.54 L343.80,118.54 L344.50,118.54 L345.20,118.54 L345.90,118.54 L346.60,118.54 L347.30,118.54 L348.00,118.54 L348.70,118.54 L349.40,118.54 L350.10,118.54 L350.80,118.54 L351.50,118.54 L352.20,118.54 L352.90,118.54 L353.60,118.54 L354.30,118.54 L355.00,118.54 L355.70,118.54 L356.40,118.54 L357.10,118.54 L357.80,118.54 L358.50,118.54 L359.20,118.54 L359.90,118.54 L360.60,118.54 L361.30,118.54 L362.00,118.54 L362.70,118.54 L363.40,118.54 L364.10,118.54 L364.80,118.54 L365.50,118.54 L366.20,118.54 L366.90,118.54 L367.60,118.54 L368.30,118.54 L369.00,118.54 L369.70,118.54 L370.40,118.54 L371.10,118.54 L371.80,118.54 L372.50,118.54 L373.20,118.54 L373.90,118.54 L374.60,118.54 L375.30,118.54 L376.00,118.54 L376.70,118.54 L377.40,118.54 L378.10,118.54 L378.80,118.54 L379.50,118.54 L380.20,118.54 L380.90,118.54 L381.60,118.54 L382.30,118.54 L382.90,118.54 Z" fill="rgb(218,150,152)"/>
<path d="M263.30,118.54 L263.30,118.54 L264.00,118.54 L264.70,118.54 L265.40,118.54 L266.10,118.54 L266.80,118.54 L267.50,118.54 L268.20,118.54 L268.90,118.54 L269.60,118.54 L270.30,118.54 L271.00,118.54 L271.70,118.54 L272.40,117.88 L273.10,117.87 L273.80,117.77 L274.50,117.65 L275.20,117.55 L275.90,117.55 L276.60,117.17 L277.30,117.23 L278.00,116.95 L278.70,116.83 L279.40,116.67 L280.10,116.52 L280.80,116.42 L281.50,116.18 L282.20,116.22 L282.90,115.90 L283.60,115.97 L284.30,115.59 L285.00,115.58 L285.70,115.37 L286.40,115.02 L287.10,115.13 L287.80,114.71 L288.50,114.37 L289.20,114.09 L289.90,113.79 L290.60,113.63 L291.30,113.40 L292.00,113.15 L292.70,112.66 L293.40,112.23 L294.10,111.60 L294.80,111.28 L295.50,110.71 L296.20,110.03 L296.90,109.65 L297.60,109.55 L298.30,109.01 L299.00,108.27 L299.70,108.14 L300.40,107.99 L301.10,107.23 L301.80,106.07 L302.50,105.67 L303.20,105.07 L303.90,104.00 L304.60,103.85 L305.30,101.47 L306.00,101.49 L306.70,101.18 L307.40,99.55 L308.10,100.61 L308.80,99.69 L309.50,98.82 L310.20,98.81 L310.90,99.00 L311.60,99.06 L312.30,99.81 L313.00,100.12 L313.70,99.81 L314.40,99.58 L315.10,100.74 L315.80,103.35 L316.50,102.84 L317.20,104.05 L317.90,105.14 L318.60,106.53 L319.30,107.08 L320.00,107.74 L320.70,108.59 L321.40,107.85 L322.10,107.95 L322.80,108.20 L323.50,108.47 L324.20,108.67 L324.90,109.83 L325.60,110.71 L326.30,111.97 L327.00,112.26 L327.70,113.27 L328.40,113.60 L329.10,114.68 L329.80,114.92 L330.50,115.28 L331.20,115.83 L331.90,116.02 L332.60,116.40 L333.30,116.63 L334.00,116.74 L334.70,116.93 L335.40,116.97 L336.10,117.12 L336.80,117.30 L337.50,117.55 L338.20,117.68 L338.90,117.66 L339.60,117.86 L340.30,117.87 L341.00,117.95 L341.70,117.89 L342.40,117.90 L343.10,118.54 L343.80,118.54 L344.50,118.54 L345.20,118.54 L345.90,118.54 L346.60,118.54 L347.30,118.54 L348.00,118.54 L348.70,118.54 L349.40,118.54 L350.10,118.54 L350.80,118.54 L351.50,118.54 L352.20,118.54 L352.90,118.54 L353.60,118.54 L354.30,118.54 L355.00,118.54 L355.70,118.54 L356.40,118.54 L357.10,118.54 L357.80,118.54 L358.50,118.54 L359.20,118.54 L359.90,118.54 L360.60,118.54 L361.30,118.54 L362.00,118.54 L362.70,118.54 L363.40,118.54 L364.10,118.54 L364.80,118.54 L365.50,118.54 L366.20,118.54 L366.90,118.54 L367.60,118.54 L368.30,118.54 L369.00,118.54 L369.70,118.54 L370.40,118.54 L371.10,118.54 L371.80,118.54 L372.50,118.54 L373.20,118.54 L373.90,118.54 L374.60,118.54 L375.30,118.54 L376.00,118.54 L376.70,118.54 L377.40,118.54 L378.10,118.54 L378.80,118.54 L379.50,118.54 L380.20,118.54 L380.90,118.54 L381.60,118.54 L382.30,118.54 L382.90,118.54 Z" fill="rgb(196,82,90)" clip-path="url(#hc5)"/>
<path d="M271.70,118.54 L272.40,117.88 L273.10,117.87 L273.80,117.77 L274.50,117.65 L275.20,117.55 L275.90,117.55 L276.60,117.17 L277.30,117.23 L278.00,116.95 L278.70,116.83 L279.40,116.67 L280.10,116.52 L280.80,116.42 L281.50,116.18 L282.20,116.22 L282.90,115.90 L283.60,115.97 L284.30,115.59 L285.00,115.58 L285.70,115.37 L286.40,115.02 L287.10,115.13 L287.80,114.71 L288.50,114.37 L289.20,114.09 L289.90,113.79 L290.60,113.63 L291.30,113.40 L292.00,113.15 L292.70,112.66 L293.40,112.23 L294.10,111.60 L294.80,111.28 L295.50,110.71 L296.20,110.03 L296.90,109.65 L297.60,109.55 L298.30,109.01 L299.00,108.27 L299.70,108.14 L300.40,107.99 L301.10,107.23 L301.80,106.07 L302.50,105.67 L303.20,105.07 L303.90,104.00 L304.60,103.85 L305.30,101.47 L306.00,101.49 L306.70,101.18 L307.40,99.55 L308.10,100.61 L308.80,99.69 L309.50,98.82 L310.20,98.81 L310.90,99.00 L311.60,99.06 L312.30,99.81 L313.00,100.12 L313.70,99.81 L314.40,99.58 L315.10,100.74 L315.80,103.35 L316.50,102.84 L317.20,104.05 L317.90,105.14 L318.60,106.53 L319.30,107.08 L320.00,107.74 L320.70,108.59 L321.40,107.85 L322.10,107.95 L322.80,108.20 L323.50,108.47 L324.20,108.67 L324.90,109.83 L325.60,110.71 L326.30,111.97 L327.00,112.26 L327.70,113.27 L328.40,113.60 L329.10,114.68 L329.80,114.92 L330.50,115.28 L331.20,115.83 L331.90,116.02 L332.60,116.40 L333.30,116.63 L334.00,116.74 L334.70,116.93 L335.40,116.97 L336.10,117.12 L336.80,117.30 L337.50,117.55 L338.20,117.68 L338.90,117.66 L339.60,117.86 L340.30,117.87 L341.00,117.95 L341.70,117.89 L342.40,117.90 L343.10,118.54" fill="none" stroke="rgb(188,72,82)" stroke-width="0.6"/>
<path d="M263.30,131.50 L263.30,131.50 L264.00,131.50 L264.70,131.50 L265.40,131.50 L266.10,131.50 L266.80,131.50 L267.50,131.50 L268.20,131.50 L268.90,131.50 L269.60,131.50 L270.30,131.50 L271.00,131.50 L271.70,131.50 L272.40,131.50 L273.10,131.50 L273.80,131.50 L274.50,131.50 L275.20,131.50 L275.90,131.50 L276.60,131.50 L277.30,131.50 L278.00,131.50 L278.70,131.50 L279.40,131.50 L280.10,131.48 L280.80,131.35 L281.50,131.22 L282.20,130.86 L282.90,131.00 L283.60,130.79 L284.30,130.52 L285.00,130.17 L285.70,129.86 L286.40,129.83 L287.10,129.64 L287.80,129.39 L288.50,129.13 L289.20,128.80 L289.90,128.61 L290.60,128.16 L291.30,127.86 L292.00,127.92 L292.70,127.33 L293.40,126.99 L294.10,126.53 L294.80,126.14 L295.50,125.63 L296.20,124.95 L296.90,123.85 L297.60,122.71 L298.30,121.20 L299.00,119.80 L299.70,120.12 L300.40,119.77 L301.10,119.06 L301.80,118.44 L302.50,117.42 L303.20,117.64 L303.90,117.34 L304.60,116.14 L305.30,115.30 L306.00,115.93 L306.70,114.92 L307.40,114.27 L308.10,114.80 L308.80,115.36 L309.50,116.00 L310.20,116.72 L310.90,116.73 L311.60,115.55 L312.30,116.62 L313.00,115.92 L313.70,117.57 L314.40,116.08 L315.10,119.21 L315.80,118.95 L316.50,120.92 L317.20,121.34 L317.90,122.02 L318.60,122.89 L319.30,122.82 L320.00,124.08 L320.70,124.97 L321.40,124.82 L322.10,125.08 L322.80,125.72 L323.50,125.68 L324.20,126.04 L324.90,126.19 L325.60,126.49 L326.30,126.95 L327.00,127.36 L327.70,127.54 L328.40,127.96 L329.10,128.50 L329.80,128.75 L330.50,129.09 L331.20,129.42 L331.90,129.59 L332.60,130.33 L333.30,130.79 L334.00,131.25 L334.70,131.42 L335.40,131.50 L336.10,131.50 L336.80,131.50 L337.50,131.50 L338.20,131.50 L338.90,131.50 L339.60,131.50 L340.30,131.50 L341.00,131.50 L341.70,131.50 L342.40,131.50 L343.10,131.50 L343.80,131.50 L344.50,131.50 L345.20,131.50 L345.90,131.50 L346.60,131.50 L347.30,131.50 L348.00,131.50 L348.70,131.50 L349.40,131.50 L350.10,131.50 L350.80,131.50 L351.50,131.50 L352.20,131.50 L352.90,131.50 L353.60,131.50 L354.30,131.50 L355.00,131.50 L355.70,131.50 L356.40,131.50 L357.10,131.50 L357.80,131.50 L358.50,131.50 L359.20,131.50 L359.90,131.50 L360.60,131.50 L361.30,131.50 L362.00,131.50 L362.70,131.50 L363.40,131.50 L364.10,131.50 L364.80,131.50 L365.50,131.50 L366.20,131.50 L366.90,131.50 L367.60,131.50 L368.30,131.50 L369.00,131.50 L369.70,131.50 L370.40,131.50 L371.10,131.50 L371.80,131.50 L372.50,131.50 L373.20,131.50 L373.90,131.50 L374.60,131.50 L375.30,131.50 L376.00,131.50 L376.70,131.50 L377.40,131.50 L378.10,131.50 L378.80,131.50 L379.50,131.50 L380.20,131.50 L380.90,131.50 L381.60,131.50 L382.30,131.50 L382.90,131.50 Z" fill="rgb(199,141,143)"/>
<path d="M263.30,131.50 L263.30,131.50 L264.00,131.50 L264.70,131.50 L265.40,131.50 L266.10,131.50 L266.80,131.50 L267.50,131.50 L268.20,131.50 L268.90,131.50 L269.60,131.50 L270.30,131.50 L271.00,131.50 L271.70,131.50 L272.40,131.50 L273.10,131.50 L273.80,131.50 L274.50,131.50 L275.20,131.50 L275.90,131.50 L276.60,131.50 L277.30,131.50 L278.00,131.50 L278.70,131.50 L279.40,131.50 L280.10,131.48 L280.80,131.35 L281.50,131.22 L282.20,130.86 L282.90,131.00 L283.60,130.79 L284.30,130.52 L285.00,130.17 L285.70,129.86 L286.40,129.83 L287.10,129.64 L287.80,129.39 L288.50,129.13 L289.20,128.80 L289.90,128.61 L290.60,128.16 L291.30,127.86 L292.00,127.92 L292.70,127.33 L293.40,126.99 L294.10,126.53 L294.80,126.14 L295.50,125.63 L296.20,124.95 L296.90,123.85 L297.60,122.71 L298.30,121.20 L299.00,119.80 L299.70,120.12 L300.40,119.77 L301.10,119.06 L301.80,118.44 L302.50,117.42 L303.20,117.64 L303.90,117.34 L304.60,116.14 L305.30,115.30 L306.00,115.93 L306.70,114.92 L307.40,114.27 L308.10,114.80 L308.80,115.36 L309.50,116.00 L310.20,116.72 L310.90,116.73 L311.60,115.55 L312.30,116.62 L313.00,115.92 L313.70,117.57 L314.40,116.08 L315.10,119.21 L315.80,118.95 L316.50,120.92 L317.20,121.34 L317.90,122.02 L318.60,122.89 L319.30,122.82 L320.00,124.08 L320.70,124.97 L321.40,124.82 L322.10,125.08 L322.80,125.72 L323.50,125.68 L324.20,126.04 L324.90,126.19 L325.60,126.49 L326.30,126.95 L327.00,127.36 L327.70,127.54 L328.40,127.96 L329.10,128.50 L329.80,128.75 L330.50,129.09 L331.20,129.42 L331.90,129.59 L332.60,130.33 L333.30,130.79 L334.00,131.25 L334.70,131.42 L335.40,131.50 L336.10,131.50 L336.80,131.50 L337.50,131.50 L338.20,131.50 L338.90,131.50 L339.60,131.50 L340.30,131.50 L341.00,131.50 L341.70,131.50 L342.40,131.50 L343.10,131.50 L343.80,131.50 L344.50,131.50 L345.20,131.50 L345.90,131.50 L346.60,131.50 L347.30,131.50 L348.00,131.50 L348.70,131.50 L349.40,131.50 L350.10,131.50 L350.80,131.50 L351.50,131.50 L352.20,131.50 L352.90,131.50 L353.60,131.50 L354.30,131.50 L355.00,131.50 L355.70,131.50 L356.40,131.50 L357.10,131.50 L357.80,131.50 L358.50,131.50 L359.20,131.50 L359.90,131.50 L360.60,131.50 L361.30,131.50 L362.00,131.50 L362.70,131.50 L363.40,131.50 L364.10,131.50 L364.80,131.50 L365.50,131.50 L366.20,131.50 L366.90,131.50 L367.60,131.50 L368.30,131.50 L369.00,131.50 L369.70,131.50 L370.40,131.50 L371.10,131.50 L371.80,131.50 L372.50,131.50 L373.20,131.50 L373.90,131.50 L374.60,131.50 L375.30,131.50 L376.00,131.50 L376.70,131.50 L377.40,131.50 L378.10,131.50 L378.80,131.50 L379.50,131.50 L380.20,131.50 L380.90,131.50 L381.60,131.50 L382.30,131.50 L382.90,131.50 Z" fill="rgb(170,90,95)" clip-path="url(#hc6)"/>
<path d="M280.80,131.35 L281.50,131.22 L282.20,130.86 L282.90,131.00 L283.60,130.79 L284.30,130.52 L285.00,130.17 L285.70,129.86 L286.40,129.83 L287.10,129.64 L287.80,129.39 L288.50,129.13 L289.20,128.80 L289.90,128.61 L290.60,128.16 L291.30,127.86 L292.00,127.92 L292.70,127.33 L293.40,126.99 L294.10,126.53 L294.80,126.14 L295.50,125.63 L296.20,124.95 L296.90,123.85 L297.60,122.71 L298.30,121.20 L299.00,119.80 L299.70,120.12 L300.40,119.77 L301.10,119.06 L301.80,118.44 L302.50,117.42 L303.20,117.64 L303.90,117.34 L304.60,116.14 L305.30,115.30 L306.00,115.93 L306.70,114.92 L307.40,114.27 L308.10,114.80 L308.80,115.36 L309.50,116.00 L310.20,116.72 L310.90,116.73 L311.60,115.55 L312.30,116.62 L313.00,115.92 L313.70,117.57 L314.40,116.08 L315.10,119.21 L315.80,118.95 L316.50,120.92 L317.20,121.34 L317.90,122.02 L318.60,122.89 L319.30,122.82 L320.00,124.08 L320.70,124.97 L321.40,124.82 L322.10,125.08 L322.80,125.72 L323.50,125.68 L324.20,126.04 L324.90,126.19 L325.60,126.49 L326.30,126.95 L327.00,127.36 L327.70,127.54 L328.40,127.96 L329.10,128.50 L329.80,128.75 L330.50,129.09 L331.20,129.42 L331.90,129.59 L332.60,130.33 L333.30,130.79 L334.00,131.25 L334.70,131.42" fill="none" stroke="rgb(163,82,88)" stroke-width="0.6"/>
</g>
<line x1="262.8" y1="11.6" x2="383.4" y2="11.6" stroke="#b5b5b5" stroke-width="1" />
<line x1="383.4" y1="11.6" x2="383.4" y2="131.5" stroke="#b5b5b5" stroke-width="1" />
<line x1="262.8" y1="11.6" x2="262.8" y2="131.5" stroke="#a5a5a5" stroke-width="1" />
<line x1="262.8" y1="131.5" x2="383.4" y2="131.5" stroke="#7a7a7a" stroke-width="1.0" />
<line x1="267.81723159067985" y1="131.5" x2="267.81723159067985" y2="133.3" stroke="#555" stroke-width="0.7" />
<line x1="272.39138420466014" y1="131.5" x2="272.39138420466014" y2="133.3" stroke="#555" stroke-width="0.7" />
<line x1="276.12873901810804" y1="131.5" x2="276.12873901810804" y2="133.3" stroke="#555" stroke-width="0.7" />
<line x1="279.28862748867294" y1="131.5" x2="279.28862748867294" y2="133.3" stroke="#555" stroke-width="0.7" />
<line x1="282.0258473860198" y1="131.5" x2="282.0258473860198" y2="133.3" stroke="#555" stroke-width="0.7" />
<line x1="284.44024644553616" y1="131.5" x2="284.44024644553616" y2="133.3" stroke="#555" stroke-width="0.7" />
<line x1="300.80861579533996" y1="131.5" x2="300.80861579533996" y2="133.3" stroke="#555" stroke-width="0.7" />
<line x1="309.1201232227681" y1="131.5" x2="309.1201232227681" y2="133.3" stroke="#555" stroke-width="0.7" />
<line x1="315.01723159067984" y1="131.5" x2="315.01723159067984" y2="133.3" stroke="#555" stroke-width="0.7" />
<line x1="319.59138420466013" y1="131.5" x2="319.59138420466013" y2="133.3" stroke="#555" stroke-width="0.7" />
<line x1="323.328739018108" y1="131.5" x2="323.328739018108" y2="133.3" stroke="#555" stroke-width="0.7" />
<line x1="326.48862748867293" y1="131.5" x2="326.48862748867293" y2="133.3" stroke="#555" stroke-width="0.7" />
<line x1="329.2258473860198" y1="131.5" x2="329.2258473860198" y2="133.3" stroke="#555" stroke-width="0.7" />
<line x1="331.64024644553615" y1="131.5" x2="331.64024644553615" y2="133.3" stroke="#555" stroke-width="0.7" />
<line x1="348.00861579533995" y1="131.5" x2="348.00861579533995" y2="133.3" stroke="#555" stroke-width="0.7" />
<line x1="356.3201232227681" y1="131.5" x2="356.3201232227681" y2="133.3" stroke="#555" stroke-width="0.7" />
<line x1="362.21723159067983" y1="131.5" x2="362.21723159067983" y2="133.3" stroke="#555" stroke-width="0.7" />
<line x1="366.7913842046601" y1="131.5" x2="366.7913842046601" y2="133.3" stroke="#555" stroke-width="0.7" />
<line x1="370.528739018108" y1="131.5" x2="370.528739018108" y2="133.3" stroke="#555" stroke-width="0.7" />
<line x1="373.6886274886729" y1="131.5" x2="373.6886274886729" y2="133.3" stroke="#555" stroke-width="0.7" />
<line x1="376.42584738601977" y1="131.5" x2="376.42584738601977" y2="133.3" stroke="#555" stroke-width="0.7" />
<line x1="378.84024644553614" y1="131.5" x2="378.84024644553614" y2="133.3" stroke="#555" stroke-width="0.7" />
<line x1="286.6" y1="131.5" x2="286.6" y2="135.0" stroke="#333" stroke-width="0.9" />
<line x1="333.8" y1="131.5" x2="333.8" y2="135.0" stroke="#333" stroke-width="0.9" />
<line x1="381.1" y1="131.5" x2="381.1" y2="135.0" stroke="#333" stroke-width="0.9" />
<text x="284.3" y="145.7" font-size="8.4" fill="#111">10<tspan dy="-4" font-size="7.2">3</tspan></text>
<text x="331.6" y="145.7" font-size="8.4" fill="#111">10<tspan dy="-4" font-size="7.2">4</tspan></text>
<text x="369.0" y="145.7" font-size="8.4" fill="#111">10<tspan dy="-4" font-size="7.2">5</tspan></text>
<text x="321.5" y="159.4" font-size="11.3" text-anchor="middle" fill="#111" >APC SSTR2</text>
<text x="385.3" y="38.3" font-size="12.3" text-anchor="start" fill="#111" stroke="#111" stroke-width="0.25">0 M</text>
<text x="383.7" y="51.9" font-size="12.3" text-anchor="start" fill="#111" stroke="#111" stroke-width="0.25">10<tspan dy="-4.6" font-size="8.5">-12</tspan><tspan dy="4.6"> M</tspan></text>
<text x="383.7" y="63.9" font-size="12.3" text-anchor="start" fill="#111" stroke="#111" stroke-width="0.25">10<tspan dy="-4.6" font-size="8.5">-11</tspan><tspan dy="4.6"> M</tspan></text>
<text x="383.7" y="76.7" font-size="12.3" text-anchor="start" fill="#111" stroke="#111" stroke-width="0.25">10<tspan dy="-4.6" font-size="8.5">-10</tspan><tspan dy="4.6"> M</tspan></text>
<text x="383.7" y="89.4" font-size="12.3" text-anchor="start" fill="#111" stroke="#111" stroke-width="0.25">10<tspan dy="-4.6" font-size="8.5">-9</tspan><tspan dy="4.6"> M</tspan></text>
<text x="383.7" y="102.4" font-size="12.3" text-anchor="start" fill="#111" stroke="#111" stroke-width="0.25">10<tspan dy="-4.6" font-size="8.5">-8</tspan><tspan dy="4.6"> M</tspan></text>
<text x="383.7" y="116.2" font-size="12.3" text-anchor="start" fill="#111" stroke="#111" stroke-width="0.25">10<tspan dy="-4.6" font-size="8.5">-7</tspan><tspan dy="4.6"> M</tspan></text>
<text x="383.7" y="130.6" font-size="12.3" text-anchor="start" fill="#111" stroke="#111" stroke-width="0.25">10<tspan dy="-4.6" font-size="8.5">-6</tspan><tspan dy="4.6"> M</tspan></text>
<text x="443.0" y="18.2" font-size="19.2" text-anchor="start" font-weight="bold" fill="#000" >c</text>
<text x="576.8" y="17.5" font-size="12.95" text-anchor="middle" fill="#111" >Jurkat-SSTR2</text>
<line x1="500.2" y1="20.5" x2="500.2" y2="127.6" stroke="#222" stroke-width="1.4" />
<line x1="499.5" y1="126.9" x2="660" y2="126.9" stroke="#222" stroke-width="1.4" />
<line x1="494.9" y1="126.9" x2="500.2" y2="126.9" stroke="#222" stroke-width="1.3" />
<text x="494.2" y="131.0" font-size="11.8" text-anchor="end" fill="#111" >2,000</text>
<line x1="494.9" y1="91.43333333333334" x2="500.2" y2="91.43333333333334" stroke="#222" stroke-width="1.3" />
<text x="494.2" y="95.53333333333333" font-size="11.8" text-anchor="end" fill="#111" >4,000</text>
<line x1="494.9" y1="55.96666666666667" x2="500.2" y2="55.96666666666667" stroke="#222" stroke-width="1.3" />
<text x="494.2" y="60.06666666666667" font-size="11.8" text-anchor="end" fill="#111" >6,000</text>
<line x1="494.9" y1="20.5" x2="500.2" y2="20.5" stroke="#222" stroke-width="1.3" />
<text x="494.2" y="24.6" font-size="11.8" text-anchor="end" fill="#111" >8,000</text>
<line x1="511.0" y1="126.9" x2="511.0" y2="132" stroke="#222" stroke-width="1.3" />
<text x="511.1" y="142.1" font-size="11.6" text-anchor="middle" fill="#111" >-12</text>
<line x1="533.9" y1="126.9" x2="533.9" y2="132" stroke="#222" stroke-width="1.3" />
<text x="534.0" y="142.1" font-size="11.6" text-anchor="middle" fill="#111" >-11</text>
<line x1="556.8" y1="126.9" x2="556.8" y2="132" stroke="#222" stroke-width="1.3" />
<text x="556.9" y="142.1" font-size="11.6" text-anchor="middle" fill="#111" >-10</text>
<line x1="579.7" y1="126.9" x2="579.7" y2="132" stroke="#222" stroke-width="1.3" />
<text x="579.8000000000001" y="142.1" font-size="11.6" text-anchor="middle" fill="#111" >-9</text>
<line x1="602.6" y1="126.9" x2="602.6" y2="132" stroke="#222" stroke-width="1.3" />
<text x="602.7" y="142.1" font-size="11.6" text-anchor="middle" fill="#111" >-8</text>
<line x1="625.5" y1="126.9" x2="625.5" y2="132" stroke="#222" stroke-width="1.3" />
<text x="625.6" y="142.1" font-size="11.6" text-anchor="middle" fill="#111" >-7</text>
<line x1="648.4" y1="126.9" x2="648.4" y2="132" stroke="#222" stroke-width="1.3" />
<text x="648.5" y="142.1" font-size="11.6" text-anchor="middle" fill="#111" >-6</text>
<text x="580.4" y="158.8" font-size="11.55" text-anchor="middle" fill="#111" >PEN-221 (log mol/L)</text>
<text x="456.6" y="71.35" font-size="11.5" text-anchor="middle" fill="#111" transform="rotate(-90 456.6 71.35)">SSTR2 (MFI)</text>
<text x="511.4" y="114" font-size="13" fill="#111">EC<tspan dy="3.4" font-size="7.8">50</tspan><tspan dy="-3.4"> = 3.79 nM</tspan></text>
<path d="M511.00,39.42 L511.57,39.42 L512.15,39.42 L512.72,39.42 L513.30,39.42 L513.87,39.42 L514.45,39.42 L515.02,39.42 L515.60,39.43 L516.17,39.43 L516.75,39.43 L517.32,39.43 L517.90,39.43 L518.47,39.43 L519.05,39.43 L519.62,39.44 L520.20,39.44 L520.77,39.44 L521.35,39.44 L521.92,39.45 L522.50,39.45 L523.07,39.45 L523.65,39.45 L524.22,39.46 L524.80,39.46 L525.37,39.46 L525.95,39.47 L526.52,39.47 L527.10,39.47 L527.67,39.48 L528.25,39.48 L528.82,39.49 L529.40,39.49 L529.97,39.50 L530.55,39.51 L531.12,39.51 L531.70,39.52 L532.27,39.53 L532.85,39.53 L533.42,39.54 L534.00,39.55 L534.57,39.56 L535.15,39.57 L535.72,39.58 L536.30,39.59 L536.87,39.60 L537.45,39.61 L538.02,39.63 L538.59,39.64 L539.17,39.65 L539.74,39.67 L540.32,39.69 L540.89,39.70 L541.47,39.72 L542.04,39.74 L542.62,39.76 L543.19,39.78 L543.77,39.81 L544.34,39.83 L544.92,39.86 L545.49,39.89 L546.07,39.92 L546.64,39.95 L547.22,39.98 L547.79,40.02 L548.37,40.05 L548.94,40.09 L549.52,40.13 L550.09,40.18 L550.67,40.23 L551.24,40.28 L551.82,40.33 L552.39,40.39 L552.97,40.45 L553.54,40.51 L554.12,40.58 L554.69,40.65 L555.27,40.72 L555.84,40.80 L556.42,40.89 L556.99,40.98 L557.57,41.07 L558.14,41.17 L558.72,41.28 L559.29,41.39 L559.87,41.51 L560.44,41.64 L561.02,41.77 L561.59,41.91 L562.17,42.06 L562.74,42.22 L563.32,42.39 L563.89,42.56 L564.47,42.75 L565.04,42.95 L565.62,43.15 L566.19,43.37 L566.76,43.60 L567.34,43.85 L567.91,44.10 L568.49,44.37 L569.06,44.66 L569.64,44.96 L570.21,45.27 L570.79,45.60 L571.36,45.95 L571.94,46.31 L572.51,46.70 L573.09,47.10 L573.66,47.52 L574.24,47.96 L574.81,48.42 L575.39,48.91 L575.96,49.41 L576.54,49.94 L577.11,50.49 L577.69,51.06 L578.26,51.66 L578.84,52.28 L579.41,52.92 L579.99,53.59 L580.56,54.28 L581.14,55.00 L581.71,55.75 L582.29,56.51 L582.86,57.30 L583.44,58.12 L584.01,58.96 L584.59,59.82 L585.16,60.71 L585.74,61.61 L586.31,62.54 L586.89,63.49 L587.46,64.45 L588.04,65.43 L588.61,66.43 L589.19,67.45 L589.76,68.47 L590.34,69.51 L590.91,70.56 L591.49,71.61 L592.06,72.67 L592.64,73.74 L593.21,74.81 L593.78,75.88 L594.36,76.94 L594.93,78.01 L595.51,79.07 L596.08,80.12 L596.66,81.16 L597.23,82.19 L597.81,83.21 L598.38,84.22 L598.96,85.21 L599.53,86.18 L600.11,87.14 L600.68,88.08 L601.26,88.99 L601.83,89.89 L602.41,90.76 L602.98,91.61 L603.56,92.44 L604.13,93.24 L604.71,94.02 L605.28,94.77 L605.86,95.50 L606.43,96.21 L607.01,96.89 L607.58,97.55 L608.16,98.18 L608.73,98.79 L609.31,99.37 L609.88,99.93 L610.46,100.47 L611.03,100.98 L611.61,101.48 L612.18,101.95 L612.76,102.40 L613.33,102.83 L613.91,103.24 L614.48,103.64 L615.06,104.01 L615.63,104.36 L616.21,104.70 L616.78,105.03 L617.36,105.33 L617.93,105.62 L618.51,105.90 L619.08,106.16 L619.66,106.41 L620.23,106.65 L620.81,106.87 L621.38,107.09 L621.95,107.29 L622.53,107.48 L623.10,107.66 L623.68,107.83 L624.25,107.99 L624.83,108.15 L625.40,108.29 L625.98,108.43 L626.55,108.56 L627.13,108.68 L627.70,108.80 L628.28,108.91 L628.85,109.01 L629.43,109.11 L630.00,109.20 L630.58,109.29 L631.15,109.37 L631.73,109.45 L632.30,109.52 L632.88,109.59 L633.45,109.65 L634.03,109.72 L634.60,109.77 L635.18,109.83 L635.75,109.88 L636.33,109.93 L636.90,109.97 L637.48,110.02 L638.05,110.06 L638.63,110.10 L639.20,110.13 L639.78,110.17 L640.35,110.20 L640.93,110.23 L641.50,110.26 L642.08,110.29 L642.65,110.31 L643.23,110.34 L643.80,110.36 L644.38,110.38 L644.95,110.40 L645.53,110.42 L646.10,110.44 L646.68,110.45 L647.25,110.47 L647.83,110.48 L648.40,110.50" fill="none" stroke="#ad2620" stroke-width="1.5"/>
<rect x="508.90" y="37.50" width="4.20" height="4.20" fill="#ad2620"/>
<rect x="531.80" y="38.70" width="4.20" height="4.20" fill="#ad2620"/>
<line x1="556.7" y1="38.1" x2="556.7" y2="42.5" stroke="#ad2620" stroke-width="1.2" />
<line x1="554.1" y1="38.1" x2="559.3000000000001" y2="38.1" stroke="#ad2620" stroke-width="1.2" />
<line x1="554.1" y1="42.5" x2="559.3000000000001" y2="42.5" stroke="#ad2620" stroke-width="1.2" />
<rect x="554.60" y="38.10" width="4.20" height="4.20" fill="#ad2620"/>
<line x1="579.6" y1="48.4" x2="579.6" y2="56" stroke="#ad2620" stroke-width="1.2" />
<line x1="577.0" y1="48.4" x2="582.2" y2="48.4" stroke="#ad2620" stroke-width="1.2" />
<line x1="577.0" y1="56" x2="582.2" y2="56" stroke="#ad2620" stroke-width="1.2" />
<rect x="577.50" y="50.10" width="4.20" height="4.20" fill="#ad2620"/>
<line x1="602.9" y1="86.2" x2="602.9" y2="99.7" stroke="#ad2620" stroke-width="1.2" />
<line x1="600.3" y1="86.2" x2="605.5" y2="86.2" stroke="#ad2620" stroke-width="1.2" />
<line x1="600.3" y1="99.7" x2="605.5" y2="99.7" stroke="#ad2620" stroke-width="1.2" />
<rect x="600.80" y="90.30" width="4.20" height="4.20" fill="#ad2620"/>
<line x1="625.5" y1="105.3" x2="625.5" y2="113.8" stroke="#ad2620" stroke-width="1.2" />
<line x1="622.9" y1="105.3" x2="628.1" y2="105.3" stroke="#ad2620" stroke-width="1.2" />
<line x1="622.9" y1="113.8" x2="628.1" y2="113.8" stroke="#ad2620" stroke-width="1.2" />
<rect x="623.40" y="107.40" width="4.20" height="4.20" fill="#ad2620"/>
<line x1="648.4" y1="105.0" x2="648.4" y2="110.4" stroke="#ad2620" stroke-width="1.2" />
<line x1="645.8" y1="105.0" x2="651.0" y2="105.0" stroke="#ad2620" stroke-width="1.2" />
<line x1="645.8" y1="110.4" x2="651.0" y2="110.4" stroke="#ad2620" stroke-width="1.2" />
<rect x="646.30" y="105.60" width="4.20" height="4.20" fill="#ad2620"/>
<text x="-0.3" y="193.6" font-size="19.8" text-anchor="start" font-weight="bold" fill="#000" >d</text>
<line x1="45.7" y1="198.39999999999998" x2="45.7" y2="306.3" stroke="#222" stroke-width="1.4" />
<line x1="45.0" y1="305.6" x2="206.4" y2="305.6" stroke="#222" stroke-width="1.4" />
<line x1="41.2" y1="291.7" x2="45.7" y2="291.7" stroke="#222" stroke-width="1.3" />
<text x="40.400000000000006" y="295.7" font-size="11.5" text-anchor="end" fill="#111" >0</text>
<line x1="41.2" y1="268.375" x2="45.7" y2="268.375" stroke="#222" stroke-width="1.3" />
<text x="40.400000000000006" y="272.375" font-size="11.5" text-anchor="end" fill="#111" >25</text>
<line x1="41.2" y1="245.04999999999998" x2="45.7" y2="245.04999999999998" stroke="#222" stroke-width="1.3" />
<text x="40.400000000000006" y="249.04999999999998" font-size="11.5" text-anchor="end" fill="#111" >50</text>
<line x1="41.2" y1="221.72499999999997" x2="45.7" y2="221.72499999999997" stroke="#222" stroke-width="1.3" />
<text x="40.400000000000006" y="225.72499999999997" font-size="11.5" text-anchor="end" fill="#111" >75</text>
<line x1="41.2" y1="198.39999999999998" x2="45.7" y2="198.39999999999998" stroke="#222" stroke-width="1.3" />
<text x="40.400000000000006" y="202.39999999999998" font-size="11.5" text-anchor="end" fill="#111" >100</text>
<line x1="56.9" y1="305.6" x2="56.9" y2="310.6" stroke="#222" stroke-width="1.3" />
<text x="57.0" y="321.70000000000005" font-size="11.6" text-anchor="middle" fill="#111" >-12</text>
<line x1="79.93" y1="305.6" x2="79.93" y2="310.6" stroke="#222" stroke-width="1.3" />
<text x="80.03" y="321.70000000000005" font-size="11.6" text-anchor="middle" fill="#111" >-11</text>
<line x1="102.96000000000001" y1="305.6" x2="102.96000000000001" y2="310.6" stroke="#222" stroke-width="1.3" />
<text x="103.06" y="321.70000000000005" font-size="11.6" text-anchor="middle" fill="#111" >-10</text>
<line x1="125.99000000000001" y1="305.6" x2="125.99000000000001" y2="310.6" stroke="#222" stroke-width="1.3" />
<text x="126.09" y="321.70000000000005" font-size="11.6" text-anchor="middle" fill="#111" >-9</text>
<line x1="149.02" y1="305.6" x2="149.02" y2="310.6" stroke="#222" stroke-width="1.3" />
<text x="149.12" y="321.70000000000005" font-size="11.6" text-anchor="middle" fill="#111" >-8</text>
<line x1="172.05" y1="305.6" x2="172.05" y2="310.6" stroke="#222" stroke-width="1.3" />
<text x="172.15" y="321.70000000000005" font-size="11.6" text-anchor="middle" fill="#111" >-7</text>
<line x1="195.08" y1="305.6" x2="195.08" y2="310.6" stroke="#222" stroke-width="1.3" />
<text x="195.18" y="321.70000000000005" font-size="11.6" text-anchor="middle" fill="#111" >-6</text>
<text x="123.9" y="337.1" font-size="11.6" text-anchor="middle" fill="#111" >PEN-221 (log mol/L)</text>
<text x="15.5" y="250.6" font-size="11.45" text-anchor="middle" fill="#111" transform="rotate(-90 15.5 250.6)">%Cytotoxicity</text>
<text x="117.1" y="192.9" font-size="12.9" text-anchor="middle" fill="#111" >Jurkat-NT</text>
<text x="48.6" y="213.7" font-size="13" fill="#111">EC<tspan dy="3.4" font-size="7.8">50</tspan><tspan dy="-3.4"> = 2.97 <tspan font-family="Liberation Serif" font-size="13.5">μ</tspan>M</tspan></text>
<path d="M56.90,295.13 L57.59,295.13 L58.29,295.13 L58.98,295.13 L59.68,295.13 L60.37,295.13 L61.07,295.13 L61.76,295.13 L62.45,295.13 L63.15,295.13 L63.84,295.13 L64.54,295.13 L65.23,295.13 L65.93,295.13 L66.62,295.13 L67.32,295.13 L68.01,295.13 L68.70,295.13 L69.40,295.13 L70.09,295.13 L70.79,295.13 L71.48,295.13 L72.18,295.13 L72.87,295.13 L73.56,295.13 L74.26,295.13 L74.95,295.13 L75.65,295.13 L76.34,295.13 L77.04,295.13 L77.73,295.13 L78.43,295.13 L79.12,295.13 L79.81,295.13 L80.51,295.13 L81.20,295.13 L81.90,295.13 L82.59,295.13 L83.29,295.13 L83.98,295.13 L84.67,295.13 L85.37,295.13 L86.06,295.13 L86.76,295.13 L87.45,295.13 L88.15,295.13 L88.84,295.13 L89.54,295.13 L90.23,295.13 L90.92,295.13 L91.62,295.13 L92.31,295.13 L93.01,295.13 L93.70,295.13 L94.40,295.13 L95.09,295.13 L95.78,295.13 L96.48,295.13 L97.17,295.13 L97.87,295.13 L98.56,295.13 L99.26,295.13 L99.95,295.12 L100.65,295.12 L101.34,295.12 L102.03,295.12 L102.73,295.12 L103.42,295.12 L104.12,295.12 L104.81,295.12 L105.51,295.12 L106.20,295.12 L106.89,295.12 L107.59,295.11 L108.28,295.11 L108.98,295.11 L109.67,295.11 L110.37,295.11 L111.06,295.11 L111.76,295.10 L112.45,295.10 L113.14,295.10 L113.84,295.10 L114.53,295.10 L115.23,295.09 L115.92,295.09 L116.62,295.09 L117.31,295.08 L118.00,295.08 L118.70,295.08 L119.39,295.07 L120.09,295.07 L120.78,295.06 L121.48,295.06 L122.17,295.05 L122.87,295.05 L123.56,295.04 L124.25,295.04 L124.95,295.03 L125.64,295.02 L126.34,295.01 L127.03,295.01 L127.73,295.00 L128.42,294.99 L129.11,294.98 L129.81,294.97 L130.50,294.95 L131.20,294.94 L131.89,294.93 L132.59,294.91 L133.28,294.90 L133.98,294.88 L134.67,294.86 L135.36,294.85 L136.06,294.83 L136.75,294.80 L137.45,294.78 L138.14,294.76 L138.84,294.73 L139.53,294.70 L140.22,294.67 L140.92,294.64 L141.61,294.60 L142.31,294.57 L143.00,294.53 L143.70,294.48 L144.39,294.44 L145.09,294.39 L145.78,294.34 L146.47,294.28 L147.17,294.22 L147.86,294.16 L148.56,294.09 L149.25,294.01 L149.95,293.94 L150.64,293.85 L151.33,293.76 L152.03,293.67 L152.72,293.56 L153.42,293.45 L154.11,293.34 L154.81,293.21 L155.50,293.07 L156.20,292.93 L156.89,292.78 L157.58,292.61 L158.28,292.44 L158.97,292.25 L159.67,292.05 L160.36,291.83 L161.06,291.60 L161.75,291.36 L162.44,291.10 L163.14,290.82 L163.83,290.52 L164.53,290.20 L165.22,289.86 L165.92,289.49 L166.61,289.10 L167.31,288.69 L168.00,288.24 L168.69,287.77 L169.39,287.27 L170.08,286.73 L170.78,286.16 L171.47,285.55 L172.17,284.89 L172.86,284.20 L173.55,283.46 L174.25,282.67 L174.94,281.84 L175.64,280.95 L176.33,280.00 L177.03,278.99 L177.72,277.92 L178.42,276.79 L179.11,275.58 L179.80,274.31 L180.50,272.95 L181.19,271.52 L181.89,270.00 L182.58,268.39 L183.28,266.69 L183.97,264.90 L184.66,263.00 L185.36,261.01 L186.05,258.90 L186.75,256.69 L187.44,254.36 L188.14,251.91 L188.83,249.35 L189.53,246.66 L190.22,243.85 L190.91,240.91 L191.61,237.85 L192.30,234.65 L193.00,231.32 L193.69,227.87 L194.39,224.28 L195.08,220.57" fill="none" stroke="#111" stroke-width="1.5"/>
<line x1="57" y1="289.4" x2="57" y2="301" stroke="#111" stroke-width="1.2" />
<line x1="54.4" y1="289.4" x2="59.6" y2="289.4" stroke="#111" stroke-width="1.2" />
<line x1="54.4" y1="301" x2="59.6" y2="301" stroke="#111" stroke-width="1.2" />
<circle cx="57.00" cy="295.10" r="2.2" fill="#111"/>
<line x1="80.3" y1="284.8" x2="80.3" y2="290.1" stroke="#111" stroke-width="1.2" />
<line x1="77.7" y1="284.8" x2="82.89999999999999" y2="284.8" stroke="#111" stroke-width="1.2" />
<line x1="77.7" y1="290.1" x2="82.89999999999999" y2="290.1" stroke="#111" stroke-width="1.2" />
<circle cx="80.30" cy="287.50" r="2.2" fill="#111"/>
<line x1="103" y1="291" x2="103" y2="304.1" stroke="#111" stroke-width="1.2" />
<line x1="100.4" y1="291" x2="105.6" y2="291" stroke="#111" stroke-width="1.2" />
<line x1="100.4" y1="304.1" x2="105.6" y2="304.1" stroke="#111" stroke-width="1.2" />
<circle cx="103.00" cy="297.10" r="2.2" fill="#111"/>
<line x1="126" y1="286.3" x2="126" y2="296.4" stroke="#111" stroke-width="1.2" />
<line x1="123.4" y1="286.3" x2="128.6" y2="286.3" stroke="#111" stroke-width="1.2" />
<line x1="123.4" y1="296.4" x2="128.6" y2="296.4" stroke="#111" stroke-width="1.2" />
<circle cx="126.00" cy="291.30" r="2.2" fill="#111"/>
<circle cx="149.00" cy="303.40" r="2.2" fill="#111"/>
<line x1="172.1" y1="283.6" x2="172.1" y2="287.2" stroke="#111" stroke-width="1.2" />
<line x1="169.5" y1="283.6" x2="174.7" y2="283.6" stroke="#111" stroke-width="1.2" />
<line x1="169.5" y1="287.2" x2="174.7" y2="287.2" stroke="#111" stroke-width="1.2" />
<circle cx="172.10" cy="285.40" r="2.2" fill="#111"/>
<line x1="195" y1="217.6" x2="195" y2="224.9" stroke="#111" stroke-width="1.2" />
<line x1="192.4" y1="217.6" x2="197.6" y2="217.6" stroke="#111" stroke-width="1.2" />
<line x1="192.4" y1="224.9" x2="197.6" y2="224.9" stroke="#111" stroke-width="1.2" />
<circle cx="195.00" cy="221.10" r="2.2" fill="#111"/>
<line x1="289.0" y1="196.40000000000003" x2="289.0" y2="305.2" stroke="#222" stroke-width="1.4" />
<line x1="288.3" y1="304.5" x2="451.3" y2="304.5" stroke="#222" stroke-width="1.4" />
<line x1="284.5" y1="290.8" x2="289.0" y2="290.8" stroke="#222" stroke-width="1.3" />
<text x="283.7" y="294.8" font-size="11.5" text-anchor="end" fill="#111" >0</text>
<line x1="284.5" y1="267.2" x2="289.0" y2="267.2" stroke="#222" stroke-width="1.3" />
<text x="283.7" y="271.2" font-size="11.5" text-anchor="end" fill="#111" >25</text>
<line x1="284.5" y1="243.60000000000002" x2="289.0" y2="243.60000000000002" stroke="#222" stroke-width="1.3" />
<text x="283.7" y="247.60000000000002" font-size="11.5" text-anchor="end" fill="#111" >50</text>
<line x1="284.5" y1="220.0" x2="289.0" y2="220.0" stroke="#222" stroke-width="1.3" />
<text x="283.7" y="224.0" font-size="11.5" text-anchor="end" fill="#111" >75</text>
<line x1="284.5" y1="196.40000000000003" x2="289.0" y2="196.40000000000003" stroke="#222" stroke-width="1.3" />
<text x="283.7" y="200.40000000000003" font-size="11.5" text-anchor="end" fill="#111" >100</text>
<line x1="301.0" y1="304.5" x2="301.0" y2="309.5" stroke="#222" stroke-width="1.3" />
<text x="301.1" y="320.6" font-size="11.6" text-anchor="middle" fill="#111" >-12</text>
<line x1="324.32" y1="304.5" x2="324.32" y2="309.5" stroke="#222" stroke-width="1.3" />
<text x="324.42" y="320.6" font-size="11.6" text-anchor="middle" fill="#111" >-11</text>
<line x1="347.64" y1="304.5" x2="347.64" y2="309.5" stroke="#222" stroke-width="1.3" />
<text x="347.74" y="320.6" font-size="11.6" text-anchor="middle" fill="#111" >-10</text>
<line x1="370.96000000000004" y1="304.5" x2="370.96000000000004" y2="309.5" stroke="#222" stroke-width="1.3" />
<text x="371.06000000000006" y="320.6" font-size="11.6" text-anchor="middle" fill="#111" >-9</text>
<line x1="394.28" y1="304.5" x2="394.28" y2="309.5" stroke="#222" stroke-width="1.3" />
<text x="394.38" y="320.6" font-size="11.6" text-anchor="middle" fill="#111" >-8</text>
<line x1="417.6" y1="304.5" x2="417.6" y2="309.5" stroke="#222" stroke-width="1.3" />
<text x="417.70000000000005" y="320.6" font-size="11.6" text-anchor="middle" fill="#111" >-7</text>
<line x1="440.92" y1="304.5" x2="440.92" y2="309.5" stroke="#222" stroke-width="1.3" />
<text x="441.02000000000004" y="320.6" font-size="11.6" text-anchor="middle" fill="#111" >-6</text>
<text x="370.6" y="337.1" font-size="11.85" text-anchor="middle" fill="#111" >PEN-221 (log mol/L)</text>
<text x="259.0" y="248.6" font-size="11.45" text-anchor="middle" fill="#111" transform="rotate(-90 259.0 248.6)">%Cytotoxicity</text>
<text x="360.4" y="192.9" font-size="12.9" text-anchor="middle" fill="#111" >Jurkat-SSTR2</text>
<text x="291.8" y="213.7" font-size="13" fill="#111">EC<tspan dy="3.4" font-size="7.8">50</tspan><tspan dy="-3.4"> = 2.88 nM</tspan></text>
<path d="M301.00,300.94 L301.70,300.93 L302.41,300.93 L303.11,300.93 L303.81,300.93 L304.52,300.93 L305.22,300.92 L305.92,300.92 L306.62,300.92 L307.33,300.91 L308.03,300.91 L308.73,300.91 L309.44,300.90 L310.14,300.90 L310.84,300.90 L311.55,300.89 L312.25,300.89 L312.95,300.88 L313.66,300.87 L314.36,300.87 L315.06,300.86 L315.77,300.85 L316.47,300.85 L317.17,300.84 L317.87,300.83 L318.58,300.82 L319.28,300.81 L319.98,300.80 L320.69,300.78 L321.39,300.77 L322.09,300.76 L322.80,300.74 L323.50,300.73 L324.20,300.71 L324.91,300.69 L325.61,300.67 L326.31,300.65 L327.02,300.62 L327.72,300.60 L328.42,300.57 L329.12,300.54 L329.83,300.51 L330.53,300.48 L331.23,300.44 L331.94,300.40 L332.64,300.36 L333.34,300.32 L334.05,300.27 L334.75,300.22 L335.45,300.16 L336.16,300.10 L336.86,300.04 L337.56,299.97 L338.27,299.89 L338.97,299.82 L339.67,299.73 L340.37,299.64 L341.08,299.54 L341.78,299.43 L342.48,299.32 L343.19,299.20 L343.89,299.07 L344.59,298.93 L345.30,298.78 L346.00,298.61 L346.70,298.44 L347.41,298.26 L348.11,298.06 L348.81,297.84 L349.51,297.62 L350.22,297.37 L350.92,297.11 L351.62,296.83 L352.33,296.53 L353.03,296.21 L353.73,295.87 L354.44,295.51 L355.14,295.12 L355.84,294.71 L356.55,294.27 L357.25,293.80 L357.95,293.30 L358.66,292.77 L359.36,292.20 L360.06,291.60 L360.76,290.97 L361.47,290.29 L362.17,289.58 L362.87,288.82 L363.58,288.03 L364.28,287.19 L364.98,286.30 L365.69,285.37 L366.39,284.39 L367.09,283.37 L367.80,282.29 L368.50,281.16 L369.20,279.99 L369.91,278.77 L370.61,277.49 L371.31,276.17 L372.01,274.80 L372.72,273.39 L373.42,271.93 L374.12,270.42 L374.83,268.88 L375.53,267.30 L376.23,265.68 L376.94,264.03 L377.64,262.35 L378.34,260.65 L379.05,258.93 L379.75,257.19 L380.45,255.44 L381.16,253.68 L381.86,251.92 L382.56,250.17 L383.26,248.42 L383.97,246.68 L384.67,244.96 L385.37,243.25 L386.08,241.58 L386.78,239.93 L387.48,238.31 L388.19,236.73 L388.89,235.19 L389.59,233.68 L390.30,232.22 L391.00,230.81 L391.70,229.44 L392.41,228.12 L393.11,226.85 L393.81,225.63 L394.51,224.45 L395.22,223.33 L395.92,222.25 L396.62,221.23 L397.33,220.25 L398.03,219.32 L398.73,218.43 L399.44,217.59 L400.14,216.80 L400.84,216.04 L401.55,215.33 L402.25,214.66 L402.95,214.02 L403.65,213.42 L404.36,212.86 L405.06,212.33 L405.76,211.83 L406.47,211.36 L407.17,210.92 L407.87,210.51 L408.58,210.12 L409.28,209.76 L409.98,209.42 L410.69,209.10 L411.39,208.80 L412.09,208.52 L412.80,208.26 L413.50,208.02 L414.20,207.79 L414.90,207.58 L415.61,207.38 L416.31,207.19 L417.01,207.02 L417.72,206.86 L418.42,206.71 L419.12,206.57 L419.83,206.44 L420.53,206.31 L421.23,206.20 L421.94,206.10 L422.64,206.00 L423.34,205.91 L424.05,205.82 L424.75,205.74 L425.45,205.67 L426.15,205.60 L426.86,205.53 L427.56,205.47 L428.26,205.42 L428.97,205.37 L429.67,205.32 L430.37,205.27 L431.08,205.23 L431.78,205.19 L432.48,205.16 L433.19,205.12 L433.89,205.09 L434.59,205.06 L435.30,205.04 L436.00,205.01 L436.70,204.99 L437.40,204.97 L438.11,204.95 L438.81,204.93 L439.51,204.91 L440.22,204.89 L440.92,204.88" fill="none" stroke="#ad2620" stroke-width="1.5"/>
<line x1="300.9" y1="290.7" x2="300.9" y2="300.4" stroke="#ad2620" stroke-width="1.2" />
<line x1="298.29999999999995" y1="290.7" x2="303.5" y2="290.7" stroke="#ad2620" stroke-width="1.2" />
<line x1="298.29999999999995" y1="300.4" x2="303.5" y2="300.4" stroke="#ad2620" stroke-width="1.2" />
<rect x="298.80" y="293.20" width="4.20" height="4.20" fill="#ad2620"/>
<line x1="324" y1="293.1" x2="324" y2="303.1" stroke="#ad2620" stroke-width="1.2" />
<line x1="321.4" y1="293.1" x2="326.6" y2="293.1" stroke="#ad2620" stroke-width="1.2" />
<line x1="321.4" y1="303.1" x2="326.6" y2="303.1" stroke="#ad2620" stroke-width="1.2" />
<rect x="321.90" y="295.90" width="4.20" height="4.20" fill="#ad2620"/>
<line x1="347.3" y1="294.6" x2="347.3" y2="306.5" stroke="#ad2620" stroke-width="1.2" />
<line x1="344.7" y1="294.6" x2="349.90000000000003" y2="294.6" stroke="#ad2620" stroke-width="1.2" />
<line x1="344.7" y1="306.5" x2="349.90000000000003" y2="306.5" stroke="#ad2620" stroke-width="1.2" />
<rect x="345.20" y="300.50" width="4.20" height="4.20" fill="#ad2620"/>
<rect x="368.60" y="280.60" width="4.20" height="4.20" fill="#ad2620"/>
<rect x="391.60" y="214.30" width="4.20" height="4.20" fill="#ad2620"/>
<line x1="416.8" y1="205.8" x2="416.8" y2="211.4" stroke="#ad2620" stroke-width="1.2" />
<line x1="414.2" y1="205.8" x2="419.40000000000003" y2="205.8" stroke="#ad2620" stroke-width="1.2" />
<line x1="414.2" y1="211.4" x2="419.40000000000003" y2="211.4" stroke="#ad2620" stroke-width="1.2" />
<rect x="414.70" y="206.60" width="4.20" height="4.20" fill="#ad2620"/>
<rect x="438.00" y="204.90" width="4.20" height="4.20" fill="#ad2620"/>
</svg>
</body></html>
